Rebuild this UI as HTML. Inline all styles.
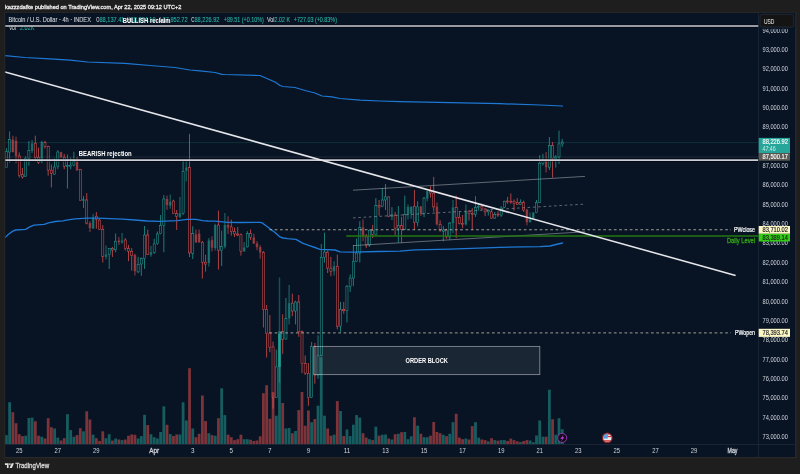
<!DOCTYPE html>
<html><head><meta charset="utf-8"><title>BTCUSD chart</title>
<style>
html,body{margin:0;padding:0;background:#1e1e1e;}
body{width:800px;height:474px;overflow:hidden;}
svg{display:block;will-change:transform;transform:translateZ(0);}
svg text{font-family:"Liberation Sans",sans-serif;}
</style></head><body>
<svg width="800" height="474" viewBox="0 0 800 474">
<rect x="0" y="0" width="800" height="474" fill="#1e1e1e"/>
<rect x="4.2" y="11.9" width="792.4" height="446.3" fill="#292929"/>
<rect x="5.2" y="12.9" width="789.9" height="444.1" fill="#081424"/>
<line x1="758.6" y1="12.8" x2="758.6" y2="457" stroke="#1c2738" stroke-width="0.9"/>
<line x1="5.3" y1="444.5" x2="795.1" y2="444.5" stroke="#1c2738" stroke-width="0.9"/>
<defs><clipPath id="pane"><rect x="5.3" y="12.8" width="753" height="431.5"/></clipPath></defs>
<g clip-path="url(#pane)">
<line x1="5" y1="142.6" x2="758" y2="142.6" stroke="#26a69a" stroke-opacity="0.28" stroke-width="0.7"/>
<line x1="5" y1="157" x2="758" y2="157" stroke="#9aa0aa" stroke-opacity="0.17" stroke-width="0.9"/>
<rect x="5.00" y="435.10" width="2.8" height="9.10" fill="#26a69a" fill-opacity="0.5"/>
<rect x="8.21" y="402.20" width="2.8" height="42.00" fill="#26a69a" fill-opacity="0.5"/>
<rect x="11.43" y="412.20" width="2.8" height="32.00" fill="#ef5350" fill-opacity="0.5"/>
<rect x="14.64" y="423.20" width="2.8" height="21.00" fill="#ef5350" fill-opacity="0.5"/>
<rect x="17.85" y="434.20" width="2.8" height="10.00" fill="#ef5350" fill-opacity="0.5"/>
<rect x="21.06" y="436.10" width="2.8" height="8.10" fill="#ef5350" fill-opacity="0.5"/>
<rect x="24.28" y="435.70" width="2.8" height="8.50" fill="#26a69a" fill-opacity="0.5"/>
<rect x="27.49" y="418.00" width="2.8" height="26.20" fill="#26a69a" fill-opacity="0.5"/>
<rect x="30.70" y="417.60" width="2.8" height="26.60" fill="#26a69a" fill-opacity="0.5"/>
<rect x="33.92" y="421.30" width="2.8" height="22.90" fill="#ef5350" fill-opacity="0.5"/>
<rect x="37.13" y="435.70" width="2.8" height="8.50" fill="#ef5350" fill-opacity="0.5"/>
<rect x="40.34" y="436.70" width="2.8" height="7.50" fill="#26a69a" fill-opacity="0.5"/>
<rect x="43.55" y="438.50" width="2.8" height="5.70" fill="#ef5350" fill-opacity="0.5"/>
<rect x="46.77" y="418.20" width="2.8" height="26.00" fill="#ef5350" fill-opacity="0.5"/>
<rect x="49.98" y="427.20" width="2.8" height="17.00" fill="#ef5350" fill-opacity="0.5"/>
<rect x="53.19" y="428.50" width="2.8" height="15.70" fill="#26a69a" fill-opacity="0.5"/>
<rect x="56.40" y="437.60" width="2.8" height="6.60" fill="#26a69a" fill-opacity="0.5"/>
<rect x="59.62" y="440.50" width="2.8" height="3.70" fill="#ef5350" fill-opacity="0.5"/>
<rect x="62.83" y="438.20" width="2.8" height="6.00" fill="#ef5350" fill-opacity="0.5"/>
<rect x="66.04" y="414.20" width="2.8" height="30.00" fill="#26a69a" fill-opacity="0.5"/>
<rect x="69.26" y="430.10" width="2.8" height="14.10" fill="#26a69a" fill-opacity="0.5"/>
<rect x="72.47" y="436.70" width="2.8" height="7.50" fill="#26a69a" fill-opacity="0.5"/>
<rect x="75.68" y="435.10" width="2.8" height="9.10" fill="#ef5350" fill-opacity="0.5"/>
<rect x="78.89" y="428.20" width="2.8" height="16.00" fill="#ef5350" fill-opacity="0.5"/>
<rect x="82.11" y="431.30" width="2.8" height="12.90" fill="#26a69a" fill-opacity="0.5"/>
<rect x="85.32" y="411.30" width="2.8" height="32.90" fill="#ef5350" fill-opacity="0.5"/>
<rect x="88.53" y="419.50" width="2.8" height="24.70" fill="#ef5350" fill-opacity="0.5"/>
<rect x="91.75" y="434.70" width="2.8" height="9.50" fill="#26a69a" fill-opacity="0.5"/>
<rect x="94.96" y="438.20" width="2.8" height="6.00" fill="#ef5350" fill-opacity="0.5"/>
<rect x="98.17" y="441.00" width="2.8" height="3.20" fill="#ef5350" fill-opacity="0.5"/>
<rect x="101.38" y="431.30" width="2.8" height="12.90" fill="#ef5350" fill-opacity="0.5"/>
<rect x="104.60" y="438.20" width="2.8" height="6.00" fill="#26a69a" fill-opacity="0.5"/>
<rect x="107.81" y="434.20" width="2.8" height="10.00" fill="#26a69a" fill-opacity="0.5"/>
<rect x="111.02" y="440.50" width="2.8" height="3.70" fill="#ef5350" fill-opacity="0.5"/>
<rect x="114.24" y="438.50" width="2.8" height="5.70" fill="#26a69a" fill-opacity="0.5"/>
<rect x="117.45" y="439.50" width="2.8" height="4.70" fill="#ef5350" fill-opacity="0.5"/>
<rect x="120.66" y="440.10" width="2.8" height="4.10" fill="#26a69a" fill-opacity="0.5"/>
<rect x="123.87" y="439.50" width="2.8" height="4.70" fill="#ef5350" fill-opacity="0.5"/>
<rect x="127.09" y="435.70" width="2.8" height="8.50" fill="#ef5350" fill-opacity="0.5"/>
<rect x="130.30" y="434.50" width="2.8" height="9.70" fill="#ef5350" fill-opacity="0.5"/>
<rect x="133.51" y="434.80" width="2.8" height="9.40" fill="#ef5350" fill-opacity="0.5"/>
<rect x="136.72" y="438.50" width="2.8" height="5.70" fill="#26a69a" fill-opacity="0.5"/>
<rect x="139.94" y="436.10" width="2.8" height="8.10" fill="#26a69a" fill-opacity="0.5"/>
<rect x="143.15" y="414.80" width="2.8" height="29.40" fill="#26a69a" fill-opacity="0.5"/>
<rect x="146.36" y="425.10" width="2.8" height="19.10" fill="#ef5350" fill-opacity="0.5"/>
<rect x="149.58" y="434.20" width="2.8" height="10.00" fill="#26a69a" fill-opacity="0.5"/>
<rect x="152.79" y="437.20" width="2.8" height="7.00" fill="#26a69a" fill-opacity="0.5"/>
<rect x="156.00" y="438.50" width="2.8" height="5.70" fill="#26a69a" fill-opacity="0.5"/>
<rect x="159.21" y="432.00" width="2.8" height="12.20" fill="#26a69a" fill-opacity="0.5"/>
<rect x="162.43" y="406.30" width="2.8" height="37.90" fill="#26a69a" fill-opacity="0.5"/>
<rect x="165.64" y="424.80" width="2.8" height="19.40" fill="#ef5350" fill-opacity="0.5"/>
<rect x="168.85" y="434.10" width="2.8" height="10.10" fill="#26a69a" fill-opacity="0.5"/>
<rect x="172.07" y="436.00" width="2.8" height="8.20" fill="#ef5350" fill-opacity="0.5"/>
<rect x="175.28" y="434.50" width="2.8" height="9.70" fill="#ef5350" fill-opacity="0.5"/>
<rect x="178.49" y="434.50" width="2.8" height="9.70" fill="#26a69a" fill-opacity="0.5"/>
<rect x="181.70" y="402.30" width="2.8" height="41.90" fill="#26a69a" fill-opacity="0.5"/>
<rect x="184.92" y="420.50" width="2.8" height="23.70" fill="#26a69a" fill-opacity="0.5"/>
<rect x="188.13" y="368.20" width="2.8" height="76.00" fill="#ef5350" fill-opacity="0.5"/>
<rect x="191.34" y="428.50" width="2.8" height="15.70" fill="#26a69a" fill-opacity="0.5"/>
<rect x="194.56" y="437.20" width="2.8" height="7.00" fill="#ef5350" fill-opacity="0.5"/>
<rect x="197.77" y="433.80" width="2.8" height="10.40" fill="#ef5350" fill-opacity="0.5"/>
<rect x="200.98" y="395.50" width="2.8" height="48.70" fill="#ef5350" fill-opacity="0.5"/>
<rect x="204.19" y="421.10" width="2.8" height="23.10" fill="#ef5350" fill-opacity="0.5"/>
<rect x="207.41" y="433.20" width="2.8" height="11.00" fill="#26a69a" fill-opacity="0.5"/>
<rect x="210.62" y="435.10" width="2.8" height="9.10" fill="#ef5350" fill-opacity="0.5"/>
<rect x="213.83" y="435.70" width="2.8" height="8.50" fill="#26a69a" fill-opacity="0.5"/>
<rect x="217.04" y="418.20" width="2.8" height="26.00" fill="#ef5350" fill-opacity="0.5"/>
<rect x="220.26" y="388.30" width="2.8" height="55.90" fill="#26a69a" fill-opacity="0.5"/>
<rect x="223.47" y="415.10" width="2.8" height="29.10" fill="#26a69a" fill-opacity="0.5"/>
<rect x="226.68" y="434.70" width="2.8" height="9.50" fill="#ef5350" fill-opacity="0.5"/>
<rect x="229.90" y="437.20" width="2.8" height="7.00" fill="#ef5350" fill-opacity="0.5"/>
<rect x="233.11" y="440.10" width="2.8" height="4.10" fill="#ef5350" fill-opacity="0.5"/>
<rect x="236.32" y="439.20" width="2.8" height="5.00" fill="#ef5350" fill-opacity="0.5"/>
<rect x="239.53" y="434.70" width="2.8" height="9.50" fill="#ef5350" fill-opacity="0.5"/>
<rect x="242.75" y="439.20" width="2.8" height="5.00" fill="#26a69a" fill-opacity="0.5"/>
<rect x="245.96" y="439.20" width="2.8" height="5.00" fill="#26a69a" fill-opacity="0.5"/>
<rect x="249.17" y="439.80" width="2.8" height="4.40" fill="#ef5350" fill-opacity="0.5"/>
<rect x="252.39" y="441.00" width="2.8" height="3.20" fill="#ef5350" fill-opacity="0.5"/>
<rect x="255.60" y="440.50" width="2.8" height="3.70" fill="#ef5350" fill-opacity="0.5"/>
<rect x="258.81" y="436.30" width="2.8" height="7.90" fill="#ef5350" fill-opacity="0.5"/>
<rect x="262.02" y="393.20" width="2.8" height="51.00" fill="#ef5350" fill-opacity="0.5"/>
<rect x="265.24" y="385.20" width="2.8" height="59.00" fill="#ef5350" fill-opacity="0.5"/>
<rect x="268.45" y="418.80" width="2.8" height="25.40" fill="#ef5350" fill-opacity="0.5"/>
<rect x="271.66" y="392.20" width="2.8" height="52.00" fill="#ef5350" fill-opacity="0.5"/>
<rect x="274.88" y="415.70" width="2.8" height="28.50" fill="#26a69a" fill-opacity="0.5"/>
<rect x="278.09" y="331.20" width="2.8" height="113.00" fill="#26a69a" fill-opacity="0.5"/>
<rect x="281.30" y="403.00" width="2.8" height="41.20" fill="#ef5350" fill-opacity="0.5"/>
<rect x="284.51" y="428.50" width="2.8" height="15.70" fill="#26a69a" fill-opacity="0.5"/>
<rect x="287.73" y="428.00" width="2.8" height="16.20" fill="#26a69a" fill-opacity="0.5"/>
<rect x="290.94" y="433.20" width="2.8" height="11.00" fill="#ef5350" fill-opacity="0.5"/>
<rect x="294.15" y="431.00" width="2.8" height="13.20" fill="#26a69a" fill-opacity="0.5"/>
<rect x="297.36" y="410.10" width="2.8" height="34.10" fill="#ef5350" fill-opacity="0.5"/>
<rect x="300.58" y="392.00" width="2.8" height="52.20" fill="#ef5350" fill-opacity="0.5"/>
<rect x="303.79" y="425.70" width="2.8" height="18.50" fill="#ef5350" fill-opacity="0.5"/>
<rect x="307.00" y="410.50" width="2.8" height="33.70" fill="#ef5350" fill-opacity="0.5"/>
<rect x="310.22" y="422.20" width="2.8" height="22.00" fill="#26a69a" fill-opacity="0.5"/>
<rect x="313.43" y="419.10" width="2.8" height="25.10" fill="#ef5350" fill-opacity="0.5"/>
<rect x="316.64" y="405.70" width="2.8" height="38.50" fill="#26a69a" fill-opacity="0.5"/>
<rect x="319.85" y="357.20" width="2.8" height="87.00" fill="#26a69a" fill-opacity="0.5"/>
<rect x="323.07" y="415.70" width="2.8" height="28.50" fill="#26a69a" fill-opacity="0.5"/>
<rect x="326.28" y="428.50" width="2.8" height="15.70" fill="#ef5350" fill-opacity="0.5"/>
<rect x="329.49" y="435.70" width="2.8" height="8.50" fill="#ef5350" fill-opacity="0.5"/>
<rect x="332.71" y="434.70" width="2.8" height="9.50" fill="#26a69a" fill-opacity="0.5"/>
<rect x="335.92" y="401.10" width="2.8" height="43.10" fill="#ef5350" fill-opacity="0.5"/>
<rect x="339.13" y="411.00" width="2.8" height="33.20" fill="#26a69a" fill-opacity="0.5"/>
<rect x="342.34" y="436.10" width="2.8" height="8.10" fill="#ef5350" fill-opacity="0.5"/>
<rect x="345.56" y="429.50" width="2.8" height="14.70" fill="#26a69a" fill-opacity="0.5"/>
<rect x="348.77" y="436.10" width="2.8" height="8.10" fill="#26a69a" fill-opacity="0.5"/>
<rect x="351.98" y="424.70" width="2.8" height="19.50" fill="#26a69a" fill-opacity="0.5"/>
<rect x="355.20" y="415.10" width="2.8" height="29.10" fill="#26a69a" fill-opacity="0.5"/>
<rect x="358.41" y="417.60" width="2.8" height="26.60" fill="#26a69a" fill-opacity="0.5"/>
<rect x="361.62" y="433.20" width="2.8" height="11.00" fill="#ef5350" fill-opacity="0.5"/>
<rect x="364.83" y="437.60" width="2.8" height="6.60" fill="#ef5350" fill-opacity="0.5"/>
<rect x="368.05" y="439.20" width="2.8" height="5.00" fill="#26a69a" fill-opacity="0.5"/>
<rect x="371.26" y="440.10" width="2.8" height="4.10" fill="#ef5350" fill-opacity="0.5"/>
<rect x="374.47" y="426.70" width="2.8" height="17.50" fill="#26a69a" fill-opacity="0.5"/>
<rect x="377.68" y="435.70" width="2.8" height="8.50" fill="#ef5350" fill-opacity="0.5"/>
<rect x="380.90" y="434.70" width="2.8" height="9.50" fill="#26a69a" fill-opacity="0.5"/>
<rect x="384.11" y="434.50" width="2.8" height="9.70" fill="#26a69a" fill-opacity="0.5"/>
<rect x="387.32" y="438.50" width="2.8" height="5.70" fill="#ef5350" fill-opacity="0.5"/>
<rect x="390.54" y="439.50" width="2.8" height="4.70" fill="#26a69a" fill-opacity="0.5"/>
<rect x="393.75" y="434.20" width="2.8" height="10.00" fill="#ef5350" fill-opacity="0.5"/>
<rect x="396.96" y="433.80" width="2.8" height="10.40" fill="#26a69a" fill-opacity="0.5"/>
<rect x="400.17" y="432.20" width="2.8" height="12.00" fill="#ef5350" fill-opacity="0.5"/>
<rect x="403.39" y="432.00" width="2.8" height="12.20" fill="#26a69a" fill-opacity="0.5"/>
<rect x="406.60" y="439.20" width="2.8" height="5.00" fill="#26a69a" fill-opacity="0.5"/>
<rect x="409.81" y="436.30" width="2.8" height="7.90" fill="#26a69a" fill-opacity="0.5"/>
<rect x="413.03" y="417.20" width="2.8" height="27.00" fill="#ef5350" fill-opacity="0.5"/>
<rect x="416.24" y="425.70" width="2.8" height="18.50" fill="#26a69a" fill-opacity="0.5"/>
<rect x="419.45" y="433.80" width="2.8" height="10.40" fill="#ef5350" fill-opacity="0.5"/>
<rect x="422.66" y="437.20" width="2.8" height="7.00" fill="#26a69a" fill-opacity="0.5"/>
<rect x="425.88" y="437.20" width="2.8" height="7.00" fill="#26a69a" fill-opacity="0.5"/>
<rect x="429.09" y="435.70" width="2.8" height="8.50" fill="#ef5350" fill-opacity="0.5"/>
<rect x="432.30" y="422.00" width="2.8" height="22.20" fill="#ef5350" fill-opacity="0.5"/>
<rect x="435.52" y="432.00" width="2.8" height="12.20" fill="#ef5350" fill-opacity="0.5"/>
<rect x="438.73" y="433.20" width="2.8" height="11.00" fill="#ef5350" fill-opacity="0.5"/>
<rect x="441.94" y="434.80" width="2.8" height="9.40" fill="#26a69a" fill-opacity="0.5"/>
<rect x="445.15" y="436.10" width="2.8" height="8.10" fill="#ef5350" fill-opacity="0.5"/>
<rect x="448.37" y="433.80" width="2.8" height="10.40" fill="#26a69a" fill-opacity="0.5"/>
<rect x="451.58" y="422.20" width="2.8" height="22.00" fill="#26a69a" fill-opacity="0.5"/>
<rect x="454.79" y="413.80" width="2.8" height="30.40" fill="#ef5350" fill-opacity="0.5"/>
<rect x="458.00" y="437.60" width="2.8" height="6.60" fill="#ef5350" fill-opacity="0.5"/>
<rect x="461.22" y="439.20" width="2.8" height="5.00" fill="#ef5350" fill-opacity="0.5"/>
<rect x="464.43" y="438.50" width="2.8" height="5.70" fill="#26a69a" fill-opacity="0.5"/>
<rect x="467.64" y="439.50" width="2.8" height="4.70" fill="#ef5350" fill-opacity="0.5"/>
<rect x="470.86" y="426.10" width="2.8" height="18.10" fill="#ef5350" fill-opacity="0.5"/>
<rect x="474.07" y="422.20" width="2.8" height="22.00" fill="#26a69a" fill-opacity="0.5"/>
<rect x="477.28" y="437.60" width="2.8" height="6.60" fill="#26a69a" fill-opacity="0.5"/>
<rect x="480.49" y="439.50" width="2.8" height="4.70" fill="#ef5350" fill-opacity="0.5"/>
<rect x="483.71" y="440.10" width="2.8" height="4.10" fill="#ef5350" fill-opacity="0.5"/>
<rect x="486.92" y="441.30" width="2.8" height="2.90" fill="#26a69a" fill-opacity="0.5"/>
<rect x="490.13" y="438.20" width="2.8" height="6.00" fill="#ef5350" fill-opacity="0.5"/>
<rect x="493.35" y="440.10" width="2.8" height="4.10" fill="#26a69a" fill-opacity="0.5"/>
<rect x="496.56" y="440.70" width="2.8" height="3.50" fill="#ef5350" fill-opacity="0.5"/>
<rect x="499.77" y="440.10" width="2.8" height="4.10" fill="#26a69a" fill-opacity="0.5"/>
<rect x="502.98" y="440.10" width="2.8" height="4.10" fill="#26a69a" fill-opacity="0.5"/>
<rect x="506.20" y="441.00" width="2.8" height="3.20" fill="#ef5350" fill-opacity="0.5"/>
<rect x="509.41" y="438.60" width="2.8" height="5.60" fill="#ef5350" fill-opacity="0.5"/>
<rect x="512.62" y="440.10" width="2.8" height="4.10" fill="#ef5350" fill-opacity="0.5"/>
<rect x="515.84" y="441.30" width="2.8" height="2.90" fill="#ef5350" fill-opacity="0.5"/>
<rect x="519.05" y="442.00" width="2.8" height="2.20" fill="#26a69a" fill-opacity="0.5"/>
<rect x="522.26" y="441.00" width="2.8" height="3.20" fill="#ef5350" fill-opacity="0.5"/>
<rect x="525.47" y="440.10" width="2.8" height="4.10" fill="#ef5350" fill-opacity="0.5"/>
<rect x="528.69" y="440.50" width="2.8" height="3.70" fill="#26a69a" fill-opacity="0.5"/>
<rect x="531.90" y="442.20" width="2.8" height="2.00" fill="#26a69a" fill-opacity="0.5"/>
<rect x="535.11" y="435.50" width="2.8" height="8.70" fill="#26a69a" fill-opacity="0.5"/>
<rect x="538.32" y="420.50" width="2.8" height="23.70" fill="#26a69a" fill-opacity="0.5"/>
<rect x="541.54" y="436.70" width="2.8" height="7.50" fill="#26a69a" fill-opacity="0.5"/>
<rect x="544.75" y="436.70" width="2.8" height="7.50" fill="#ef5350" fill-opacity="0.5"/>
<rect x="547.96" y="389.70" width="2.8" height="54.50" fill="#26a69a" fill-opacity="0.5"/>
<rect x="551.18" y="419.20" width="2.8" height="25.00" fill="#ef5350" fill-opacity="0.5"/>
<rect x="554.39" y="434.70" width="2.8" height="9.50" fill="#26a69a" fill-opacity="0.5"/>
<rect x="557.60" y="418.20" width="2.8" height="26.00" fill="#26a69a" fill-opacity="0.5"/>
<rect x="560.81" y="429.20" width="2.8" height="15.00" fill="#26a69a" fill-opacity="0.5"/>
<line x1="6.40" y1="148.20" x2="6.40" y2="151.60" stroke="#26a69a" stroke-width="0.72"/>
<line x1="6.40" y1="167.60" x2="6.40" y2="167.60" stroke="#26a69a" stroke-width="0.72"/>
<rect x="5.35" y="151.60" width="2.1" height="16.00" fill="#26a69a" fill-opacity="0.04" stroke="#26a69a" stroke-width="0.5"/>
<line x1="9.61" y1="131.40" x2="9.61" y2="139.50" stroke="#26a69a" stroke-width="0.72"/>
<line x1="9.61" y1="152.00" x2="9.61" y2="162.60" stroke="#26a69a" stroke-width="0.72"/>
<rect x="8.56" y="139.50" width="2.1" height="12.50" fill="#26a69a" fill-opacity="0.04" stroke="#26a69a" stroke-width="0.5"/>
<line x1="12.83" y1="135.70" x2="12.83" y2="152.50" stroke="#ef5350" stroke-width="1.5" stroke-opacity="0.42"/>
<rect x="11.53" y="139.50" width="2.6" height="12.50" fill="#ef5350" fill-opacity="0.42"/>
<line x1="16.04" y1="136.70" x2="16.04" y2="163.20" stroke="#ef5350" stroke-width="1.5" stroke-opacity="0.42"/>
<rect x="14.74" y="140.70" width="2.6" height="15.30" fill="#ef5350" fill-opacity="0.42"/>
<line x1="19.25" y1="152.40" x2="19.25" y2="156.00" stroke="#ef5350" stroke-width="0.72"/>
<line x1="19.25" y1="175.70" x2="19.25" y2="177.60" stroke="#ef5350" stroke-width="0.72"/>
<rect x="18.20" y="156.00" width="2.1" height="19.70" fill="#ef5350" fill-opacity="0.04" stroke="#ef5350" stroke-width="0.5"/>
<line x1="22.46" y1="168.00" x2="22.46" y2="174.50" stroke="#ef5350" stroke-width="0.72"/>
<line x1="22.46" y1="177.00" x2="22.46" y2="178.50" stroke="#ef5350" stroke-width="0.72"/>
<rect x="21.41" y="174.50" width="2.1" height="2.50" fill="#ef5350" fill-opacity="0.04" stroke="#ef5350" stroke-width="0.5"/>
<line x1="25.68" y1="156.40" x2="25.68" y2="158.20" stroke="#26a69a" stroke-width="0.72"/>
<line x1="25.68" y1="176.70" x2="25.68" y2="177.00" stroke="#26a69a" stroke-width="0.72"/>
<rect x="24.63" y="158.20" width="2.1" height="18.50" fill="#26a69a" fill-opacity="0.04" stroke="#26a69a" stroke-width="0.5"/>
<line x1="28.89" y1="141.00" x2="28.89" y2="150.50" stroke="#26a69a" stroke-width="0.72"/>
<line x1="28.89" y1="158.20" x2="28.89" y2="165.70" stroke="#26a69a" stroke-width="0.72"/>
<rect x="27.84" y="150.50" width="2.1" height="7.70" fill="#26a69a" fill-opacity="0.04" stroke="#26a69a" stroke-width="0.5"/>
<line x1="32.10" y1="140.00" x2="32.10" y2="153.20" stroke="#26a69a" stroke-width="1.5" stroke-opacity="0.42"/>
<rect x="30.80" y="143.50" width="2.6" height="7.50" fill="#26a69a" fill-opacity="0.42"/>
<line x1="35.32" y1="135.70" x2="35.32" y2="143.20" stroke="#ef5350" stroke-width="0.72"/>
<line x1="35.32" y1="157.60" x2="35.32" y2="161.40" stroke="#ef5350" stroke-width="0.72"/>
<rect x="34.27" y="143.20" width="2.1" height="14.40" fill="#ef5350" fill-opacity="0.04" stroke="#ef5350" stroke-width="0.5"/>
<line x1="38.53" y1="147.60" x2="38.53" y2="157.20" stroke="#ef5350" stroke-width="0.72"/>
<line x1="38.53" y1="162.60" x2="38.53" y2="163.90" stroke="#ef5350" stroke-width="0.72"/>
<rect x="37.48" y="157.20" width="2.1" height="5.40" fill="#ef5350" fill-opacity="0.04" stroke="#ef5350" stroke-width="0.5"/>
<line x1="41.74" y1="140.70" x2="41.74" y2="163.20" stroke="#26a69a" stroke-width="1.5" stroke-opacity="0.42"/>
<rect x="40.44" y="141.70" width="2.6" height="20.50" fill="#26a69a" fill-opacity="0.42"/>
<line x1="44.95" y1="140.70" x2="44.95" y2="142.60" stroke="#ef5350" stroke-width="0.72"/>
<line x1="44.95" y1="146.40" x2="44.95" y2="148.50" stroke="#ef5350" stroke-width="0.72"/>
<rect x="43.90" y="142.60" width="2.1" height="3.80" fill="#ef5350" fill-opacity="0.04" stroke="#ef5350" stroke-width="0.5"/>
<line x1="48.17" y1="145.70" x2="48.17" y2="146.60" stroke="#ef5350" stroke-width="0.72"/>
<line x1="48.17" y1="170.10" x2="48.17" y2="175.70" stroke="#ef5350" stroke-width="0.72"/>
<rect x="47.12" y="146.60" width="2.1" height="23.50" fill="#ef5350" fill-opacity="0.04" stroke="#ef5350" stroke-width="0.5"/>
<line x1="51.38" y1="164.50" x2="51.38" y2="170.10" stroke="#ef5350" stroke-width="0.72"/>
<line x1="51.38" y1="173.50" x2="51.38" y2="187.50" stroke="#ef5350" stroke-width="0.72"/>
<rect x="50.33" y="170.10" width="2.1" height="3.40" fill="#ef5350" fill-opacity="0.04" stroke="#ef5350" stroke-width="0.5"/>
<line x1="54.59" y1="158.20" x2="54.59" y2="167.00" stroke="#26a69a" stroke-width="0.72"/>
<line x1="54.59" y1="174.20" x2="54.59" y2="174.50" stroke="#26a69a" stroke-width="0.72"/>
<rect x="53.54" y="167.00" width="2.1" height="7.20" fill="#26a69a" fill-opacity="0.04" stroke="#26a69a" stroke-width="0.5"/>
<line x1="57.80" y1="150.10" x2="57.80" y2="152.00" stroke="#26a69a" stroke-width="0.72"/>
<line x1="57.80" y1="166.70" x2="57.80" y2="168.90" stroke="#26a69a" stroke-width="0.72"/>
<rect x="56.75" y="152.00" width="2.1" height="14.70" fill="#26a69a" fill-opacity="0.04" stroke="#26a69a" stroke-width="0.5"/>
<line x1="61.02" y1="151.70" x2="61.02" y2="158.20" stroke="#ef5350" stroke-width="1.5" stroke-opacity="0.42"/>
<rect x="59.72" y="152.20" width="2.6" height="4.80" fill="#ef5350" fill-opacity="0.42"/>
<line x1="64.23" y1="153.90" x2="64.23" y2="157.20" stroke="#ef5350" stroke-width="0.72"/>
<line x1="64.23" y1="166.40" x2="64.23" y2="169.20" stroke="#ef5350" stroke-width="0.72"/>
<rect x="63.18" y="157.20" width="2.1" height="9.20" fill="#ef5350" fill-opacity="0.04" stroke="#ef5350" stroke-width="0.5"/>
<line x1="67.44" y1="154.50" x2="67.44" y2="165.40" stroke="#26a69a" stroke-width="0.72"/>
<line x1="67.44" y1="166.40" x2="67.44" y2="188.50" stroke="#26a69a" stroke-width="0.72"/>
<rect x="66.39" y="165.40" width="2.1" height="1.00" fill="#26a69a" fill-opacity="0.04" stroke="#26a69a" stroke-width="0.5"/>
<line x1="70.66" y1="157.60" x2="70.66" y2="165.10" stroke="#26a69a" stroke-width="0.72"/>
<line x1="70.66" y1="166.70" x2="70.66" y2="169.20" stroke="#26a69a" stroke-width="0.72"/>
<rect x="69.61" y="165.10" width="2.1" height="1.60" fill="#26a69a" fill-opacity="0.04" stroke="#26a69a" stroke-width="0.5"/>
<line x1="73.87" y1="151.70" x2="73.87" y2="161.70" stroke="#26a69a" stroke-width="0.72"/>
<line x1="73.87" y1="165.10" x2="73.87" y2="166.40" stroke="#26a69a" stroke-width="0.72"/>
<rect x="72.82" y="161.70" width="2.1" height="3.40" fill="#26a69a" fill-opacity="0.04" stroke="#26a69a" stroke-width="0.5"/>
<line x1="77.08" y1="157.00" x2="77.08" y2="170.80" stroke="#ef5350" stroke-width="1.5" stroke-opacity="0.42"/>
<rect x="75.78" y="161.70" width="2.6" height="8.80" fill="#ef5350" fill-opacity="0.42"/>
<line x1="80.29" y1="168.90" x2="80.29" y2="169.50" stroke="#ef5350" stroke-width="0.72"/>
<line x1="80.29" y1="200.60" x2="80.29" y2="200.80" stroke="#ef5350" stroke-width="0.72"/>
<rect x="79.24" y="169.50" width="2.1" height="31.10" fill="#ef5350" fill-opacity="0.04" stroke="#ef5350" stroke-width="0.5"/>
<line x1="83.51" y1="196.20" x2="83.51" y2="199.75" stroke="#26a69a" stroke-width="0.72"/>
<line x1="83.51" y1="200.65" x2="83.51" y2="208.10" stroke="#26a69a" stroke-width="0.72"/>
<rect x="82.46" y="199.75" width="2.1" height="0.90" fill="#26a69a" fill-opacity="0.04" stroke="#26a69a" stroke-width="0.5"/>
<line x1="86.72" y1="193.10" x2="86.72" y2="200.00" stroke="#ef5350" stroke-width="0.72"/>
<line x1="86.72" y1="223.10" x2="86.72" y2="224.40" stroke="#ef5350" stroke-width="0.72"/>
<rect x="85.67" y="200.00" width="2.1" height="23.10" fill="#ef5350" fill-opacity="0.04" stroke="#ef5350" stroke-width="0.5"/>
<line x1="89.93" y1="221.20" x2="89.93" y2="231.90" stroke="#ef5350" stroke-width="1.5" stroke-opacity="0.42"/>
<rect x="88.63" y="223.10" width="2.6" height="5.00" fill="#ef5350" fill-opacity="0.42"/>
<line x1="93.15" y1="213.70" x2="93.15" y2="228.90" stroke="#26a69a" stroke-width="1.5" stroke-opacity="0.42"/>
<rect x="91.85" y="217.50" width="2.6" height="10.90" fill="#26a69a" fill-opacity="0.42"/>
<line x1="96.36" y1="212.10" x2="96.36" y2="216.20" stroke="#ef5350" stroke-width="0.72"/>
<line x1="96.36" y1="219.40" x2="96.36" y2="228.70" stroke="#ef5350" stroke-width="0.72"/>
<rect x="95.31" y="216.20" width="2.1" height="3.20" fill="#ef5350" fill-opacity="0.04" stroke="#ef5350" stroke-width="0.5"/>
<line x1="99.57" y1="218.70" x2="99.57" y2="220.00" stroke="#ef5350" stroke-width="0.72"/>
<line x1="99.57" y1="229.40" x2="99.57" y2="229.80" stroke="#ef5350" stroke-width="0.72"/>
<rect x="98.52" y="220.00" width="2.1" height="9.40" fill="#ef5350" fill-opacity="0.04" stroke="#ef5350" stroke-width="0.5"/>
<line x1="102.78" y1="225.20" x2="102.78" y2="229.40" stroke="#ef5350" stroke-width="0.72"/>
<line x1="102.78" y1="256.20" x2="102.78" y2="262.50" stroke="#ef5350" stroke-width="0.72"/>
<rect x="101.73" y="229.40" width="2.1" height="26.80" fill="#ef5350" fill-opacity="0.04" stroke="#ef5350" stroke-width="0.5"/>
<line x1="106.00" y1="245.60" x2="106.00" y2="259.40" stroke="#26a69a" stroke-width="1.5" stroke-opacity="0.42"/>
<rect x="104.70" y="254.40" width="2.6" height="2.50" fill="#26a69a" fill-opacity="0.42"/>
<line x1="109.21" y1="248.10" x2="109.21" y2="248.50" stroke="#26a69a" stroke-width="0.72"/>
<line x1="109.21" y1="254.40" x2="109.21" y2="269.00" stroke="#26a69a" stroke-width="0.72"/>
<rect x="108.16" y="248.50" width="2.1" height="5.90" fill="#26a69a" fill-opacity="0.04" stroke="#26a69a" stroke-width="0.5"/>
<line x1="112.42" y1="246.90" x2="112.42" y2="248.50" stroke="#ef5350" stroke-width="0.72"/>
<line x1="112.42" y1="250.00" x2="112.42" y2="256.90" stroke="#ef5350" stroke-width="0.72"/>
<rect x="111.37" y="248.50" width="2.1" height="1.50" fill="#ef5350" fill-opacity="0.04" stroke="#ef5350" stroke-width="0.5"/>
<line x1="115.64" y1="233.50" x2="115.64" y2="241.20" stroke="#26a69a" stroke-width="0.72"/>
<line x1="115.64" y1="249.80" x2="115.64" y2="252.30" stroke="#26a69a" stroke-width="0.72"/>
<rect x="114.59" y="241.20" width="2.1" height="8.60" fill="#26a69a" fill-opacity="0.04" stroke="#26a69a" stroke-width="0.5"/>
<line x1="118.85" y1="236.90" x2="118.85" y2="245.00" stroke="#ef5350" stroke-width="1.5" stroke-opacity="0.42"/>
<rect x="117.55" y="240.60" width="2.6" height="1.60" fill="#ef5350" fill-opacity="0.42"/>
<line x1="122.06" y1="233.10" x2="122.06" y2="243.70" stroke="#26a69a" stroke-width="1.5" stroke-opacity="0.42"/>
<rect x="120.76" y="240.60" width="2.6" height="1.90" fill="#26a69a" fill-opacity="0.42"/>
<line x1="125.27" y1="238.10" x2="125.27" y2="240.00" stroke="#ef5350" stroke-width="0.72"/>
<line x1="125.27" y1="248.60" x2="125.27" y2="250.60" stroke="#ef5350" stroke-width="0.72"/>
<rect x="124.22" y="240.00" width="2.1" height="8.60" fill="#ef5350" fill-opacity="0.04" stroke="#ef5350" stroke-width="0.5"/>
<line x1="128.49" y1="245.00" x2="128.49" y2="248.60" stroke="#ef5350" stroke-width="0.72"/>
<line x1="128.49" y1="251.20" x2="128.49" y2="261.20" stroke="#ef5350" stroke-width="0.72"/>
<rect x="127.44" y="248.60" width="2.1" height="2.60" fill="#ef5350" fill-opacity="0.04" stroke="#ef5350" stroke-width="0.5"/>
<line x1="131.70" y1="248.10" x2="131.70" y2="251.20" stroke="#ef5350" stroke-width="0.72"/>
<line x1="131.70" y1="255.60" x2="131.70" y2="270.60" stroke="#ef5350" stroke-width="0.72"/>
<rect x="130.65" y="251.20" width="2.1" height="4.40" fill="#ef5350" fill-opacity="0.04" stroke="#ef5350" stroke-width="0.5"/>
<line x1="134.91" y1="253.70" x2="134.91" y2="275.60" stroke="#ef5350" stroke-width="1.5" stroke-opacity="0.42"/>
<rect x="133.61" y="255.00" width="2.6" height="16.20" fill="#ef5350" fill-opacity="0.42"/>
<line x1="138.12" y1="256.90" x2="138.12" y2="264.40" stroke="#26a69a" stroke-width="0.72"/>
<line x1="138.12" y1="271.90" x2="138.12" y2="273.10" stroke="#26a69a" stroke-width="0.72"/>
<rect x="137.07" y="264.40" width="2.1" height="7.50" fill="#26a69a" fill-opacity="0.04" stroke="#26a69a" stroke-width="0.5"/>
<line x1="141.34" y1="257.50" x2="141.34" y2="258.60" stroke="#26a69a" stroke-width="0.72"/>
<line x1="141.34" y1="264.00" x2="141.34" y2="275.80" stroke="#26a69a" stroke-width="0.72"/>
<rect x="140.29" y="258.60" width="2.1" height="5.40" fill="#26a69a" fill-opacity="0.04" stroke="#26a69a" stroke-width="0.5"/>
<line x1="144.55" y1="226.00" x2="144.55" y2="235.00" stroke="#26a69a" stroke-width="0.72"/>
<line x1="144.55" y1="258.60" x2="144.55" y2="268.90" stroke="#26a69a" stroke-width="0.72"/>
<rect x="143.50" y="235.00" width="2.1" height="23.60" fill="#26a69a" fill-opacity="0.04" stroke="#26a69a" stroke-width="0.5"/>
<line x1="147.76" y1="229.70" x2="147.76" y2="235.00" stroke="#ef5350" stroke-width="0.72"/>
<line x1="147.76" y1="254.70" x2="147.76" y2="255.00" stroke="#ef5350" stroke-width="0.72"/>
<rect x="146.71" y="235.00" width="2.1" height="19.70" fill="#ef5350" fill-opacity="0.04" stroke="#ef5350" stroke-width="0.5"/>
<line x1="150.98" y1="246.10" x2="150.98" y2="256.70" stroke="#26a69a" stroke-width="1.5" stroke-opacity="0.42"/>
<rect x="149.68" y="252.30" width="2.6" height="2.40" fill="#26a69a" fill-opacity="0.42"/>
<line x1="154.19" y1="238.80" x2="154.19" y2="243.90" stroke="#26a69a" stroke-width="0.72"/>
<line x1="154.19" y1="252.30" x2="154.19" y2="253.90" stroke="#26a69a" stroke-width="0.72"/>
<rect x="153.14" y="243.90" width="2.1" height="8.40" fill="#26a69a" fill-opacity="0.04" stroke="#26a69a" stroke-width="0.5"/>
<line x1="157.40" y1="231.50" x2="157.40" y2="234.00" stroke="#26a69a" stroke-width="0.72"/>
<line x1="157.40" y1="243.70" x2="157.40" y2="244.80" stroke="#26a69a" stroke-width="0.72"/>
<rect x="156.35" y="234.00" width="2.1" height="9.70" fill="#26a69a" fill-opacity="0.04" stroke="#26a69a" stroke-width="0.5"/>
<line x1="160.61" y1="215.00" x2="160.61" y2="225.60" stroke="#26a69a" stroke-width="0.72"/>
<line x1="160.61" y1="233.70" x2="160.61" y2="234.30" stroke="#26a69a" stroke-width="0.72"/>
<rect x="159.56" y="225.60" width="2.1" height="8.10" fill="#26a69a" fill-opacity="0.04" stroke="#26a69a" stroke-width="0.5"/>
<line x1="163.83" y1="195.00" x2="163.83" y2="199.00" stroke="#26a69a" stroke-width="0.72"/>
<line x1="163.83" y1="225.60" x2="163.83" y2="252.20" stroke="#26a69a" stroke-width="0.72"/>
<rect x="162.78" y="199.00" width="2.1" height="26.60" fill="#26a69a" fill-opacity="0.04" stroke="#26a69a" stroke-width="0.5"/>
<line x1="167.04" y1="195.60" x2="167.04" y2="209.70" stroke="#ef5350" stroke-width="1.5" stroke-opacity="0.42"/>
<rect x="165.74" y="199.00" width="2.6" height="6.00" fill="#ef5350" fill-opacity="0.42"/>
<line x1="170.25" y1="194.40" x2="170.25" y2="208.70" stroke="#26a69a" stroke-width="1.5" stroke-opacity="0.42"/>
<rect x="168.95" y="201.90" width="2.6" height="3.70" fill="#26a69a" fill-opacity="0.42"/>
<line x1="173.47" y1="199.70" x2="173.47" y2="201.00" stroke="#ef5350" stroke-width="0.72"/>
<line x1="173.47" y1="213.70" x2="173.47" y2="214.00" stroke="#ef5350" stroke-width="0.72"/>
<rect x="172.42" y="201.00" width="2.1" height="12.70" fill="#ef5350" fill-opacity="0.04" stroke="#ef5350" stroke-width="0.5"/>
<line x1="176.68" y1="210.00" x2="176.68" y2="213.70" stroke="#ef5350" stroke-width="0.72"/>
<line x1="176.68" y1="216.20" x2="176.68" y2="230.00" stroke="#ef5350" stroke-width="0.72"/>
<rect x="175.63" y="213.70" width="2.1" height="2.50" fill="#ef5350" fill-opacity="0.04" stroke="#ef5350" stroke-width="0.5"/>
<line x1="179.89" y1="196.90" x2="179.89" y2="218.10" stroke="#26a69a" stroke-width="1.5" stroke-opacity="0.42"/>
<rect x="178.59" y="213.10" width="2.6" height="3.80" fill="#26a69a" fill-opacity="0.42"/>
<line x1="183.10" y1="160.10" x2="183.10" y2="171.40" stroke="#26a69a" stroke-width="0.72"/>
<line x1="183.10" y1="213.10" x2="183.10" y2="215.00" stroke="#26a69a" stroke-width="0.72"/>
<rect x="182.05" y="171.40" width="2.1" height="41.70" fill="#26a69a" fill-opacity="0.04" stroke="#26a69a" stroke-width="0.5"/>
<line x1="186.32" y1="160.00" x2="186.32" y2="181.40" stroke="#26a69a" stroke-width="1.5" stroke-opacity="0.42"/>
<rect x="185.02" y="167.60" width="2.6" height="3.10" fill="#26a69a" fill-opacity="0.42"/>
<line x1="189.53" y1="133.90" x2="189.53" y2="167.60" stroke="#ef5350" stroke-width="0.72"/>
<line x1="189.53" y1="252.90" x2="189.53" y2="257.00" stroke="#ef5350" stroke-width="0.72"/>
<rect x="188.48" y="167.60" width="2.1" height="85.30" fill="#ef5350" fill-opacity="0.04" stroke="#ef5350" stroke-width="0.5"/>
<line x1="192.74" y1="226.20" x2="192.74" y2="233.70" stroke="#26a69a" stroke-width="0.72"/>
<line x1="192.74" y1="253.20" x2="192.74" y2="259.10" stroke="#26a69a" stroke-width="0.72"/>
<rect x="191.69" y="233.70" width="2.1" height="19.50" fill="#26a69a" fill-opacity="0.04" stroke="#26a69a" stroke-width="0.5"/>
<line x1="195.96" y1="229.40" x2="195.96" y2="243.00" stroke="#ef5350" stroke-width="1.5" stroke-opacity="0.42"/>
<rect x="194.66" y="234.40" width="2.6" height="7.90" fill="#ef5350" fill-opacity="0.42"/>
<line x1="199.17" y1="229.40" x2="199.17" y2="242.80" stroke="#ef5350" stroke-width="1.5" stroke-opacity="0.42"/>
<rect x="197.87" y="233.70" width="2.6" height="8.60" fill="#ef5350" fill-opacity="0.42"/>
<line x1="202.38" y1="241.00" x2="202.38" y2="242.20" stroke="#ef5350" stroke-width="0.72"/>
<line x1="202.38" y1="262.20" x2="202.38" y2="278.50" stroke="#ef5350" stroke-width="0.72"/>
<rect x="201.33" y="242.20" width="2.1" height="20.00" fill="#ef5350" fill-opacity="0.04" stroke="#ef5350" stroke-width="0.5"/>
<line x1="205.59" y1="254.70" x2="205.59" y2="262.20" stroke="#ef5350" stroke-width="0.72"/>
<line x1="205.59" y1="264.10" x2="205.59" y2="271.60" stroke="#ef5350" stroke-width="0.72"/>
<rect x="204.54" y="262.20" width="2.1" height="1.90" fill="#ef5350" fill-opacity="0.04" stroke="#ef5350" stroke-width="0.5"/>
<line x1="208.81" y1="238.00" x2="208.81" y2="266.60" stroke="#26a69a" stroke-width="1.5" stroke-opacity="0.42"/>
<rect x="207.51" y="240.50" width="2.6" height="22.40" fill="#26a69a" fill-opacity="0.42"/>
<line x1="212.02" y1="236.20" x2="212.02" y2="251.60" stroke="#ef5350" stroke-width="1.5" stroke-opacity="0.42"/>
<rect x="210.72" y="240.20" width="2.6" height="7.50" fill="#ef5350" fill-opacity="0.42"/>
<line x1="215.23" y1="223.70" x2="215.23" y2="250.40" stroke="#26a69a" stroke-width="1.5" stroke-opacity="0.42"/>
<rect x="213.93" y="225.00" width="2.6" height="23.00" fill="#26a69a" fill-opacity="0.42"/>
<line x1="218.44" y1="210.60" x2="218.44" y2="225.00" stroke="#ef5350" stroke-width="0.72"/>
<line x1="218.44" y1="250.40" x2="218.44" y2="269.50" stroke="#ef5350" stroke-width="0.72"/>
<rect x="217.39" y="225.00" width="2.1" height="25.40" fill="#ef5350" fill-opacity="0.04" stroke="#ef5350" stroke-width="0.5"/>
<line x1="221.66" y1="230.60" x2="221.66" y2="246.60" stroke="#26a69a" stroke-width="0.72"/>
<line x1="221.66" y1="250.40" x2="221.66" y2="266.00" stroke="#26a69a" stroke-width="0.72"/>
<rect x="220.61" y="246.60" width="2.1" height="3.80" fill="#26a69a" fill-opacity="0.04" stroke="#26a69a" stroke-width="0.5"/>
<line x1="224.87" y1="213.10" x2="224.87" y2="248.50" stroke="#26a69a" stroke-width="1.5" stroke-opacity="0.42"/>
<rect x="223.57" y="225.00" width="2.6" height="21.70" fill="#26a69a" fill-opacity="0.42"/>
<line x1="228.08" y1="216.20" x2="228.08" y2="234.00" stroke="#ef5350" stroke-width="1.5" stroke-opacity="0.42"/>
<rect x="226.78" y="225.00" width="2.6" height="2.50" fill="#ef5350" fill-opacity="0.42"/>
<line x1="231.30" y1="219.70" x2="231.30" y2="226.90" stroke="#ef5350" stroke-width="0.72"/>
<line x1="231.30" y1="231.50" x2="231.30" y2="235.60" stroke="#ef5350" stroke-width="0.72"/>
<rect x="230.25" y="226.90" width="2.1" height="4.60" fill="#ef5350" fill-opacity="0.04" stroke="#ef5350" stroke-width="0.5"/>
<line x1="234.51" y1="227.50" x2="234.51" y2="231.30" stroke="#ef5350" stroke-width="0.72"/>
<line x1="234.51" y1="234.00" x2="234.51" y2="236.90" stroke="#ef5350" stroke-width="0.72"/>
<rect x="233.46" y="231.30" width="2.1" height="2.70" fill="#ef5350" fill-opacity="0.04" stroke="#ef5350" stroke-width="0.5"/>
<line x1="237.72" y1="227.00" x2="237.72" y2="234.00" stroke="#ef5350" stroke-width="0.72"/>
<line x1="237.72" y1="235.00" x2="237.72" y2="236.20" stroke="#ef5350" stroke-width="0.72"/>
<rect x="236.67" y="234.00" width="2.1" height="1.00" fill="#ef5350" fill-opacity="0.04" stroke="#ef5350" stroke-width="0.5"/>
<line x1="240.93" y1="233.50" x2="240.93" y2="234.80" stroke="#ef5350" stroke-width="0.72"/>
<line x1="240.93" y1="251.20" x2="240.93" y2="255.60" stroke="#ef5350" stroke-width="0.72"/>
<rect x="239.88" y="234.80" width="2.1" height="16.40" fill="#ef5350" fill-opacity="0.04" stroke="#ef5350" stroke-width="0.5"/>
<line x1="244.15" y1="241.90" x2="244.15" y2="251.90" stroke="#26a69a" stroke-width="1.5" stroke-opacity="0.42"/>
<rect x="242.85" y="247.50" width="2.6" height="3.70" fill="#26a69a" fill-opacity="0.42"/>
<line x1="247.36" y1="231.20" x2="247.36" y2="233.50" stroke="#26a69a" stroke-width="0.72"/>
<line x1="247.36" y1="246.90" x2="247.36" y2="247.50" stroke="#26a69a" stroke-width="0.72"/>
<rect x="246.31" y="233.50" width="2.1" height="13.40" fill="#26a69a" fill-opacity="0.04" stroke="#26a69a" stroke-width="0.5"/>
<line x1="250.57" y1="229.40" x2="250.57" y2="233.50" stroke="#ef5350" stroke-width="0.72"/>
<line x1="250.57" y1="237.20" x2="250.57" y2="240.00" stroke="#ef5350" stroke-width="0.72"/>
<rect x="249.52" y="233.50" width="2.1" height="3.70" fill="#ef5350" fill-opacity="0.04" stroke="#ef5350" stroke-width="0.5"/>
<line x1="253.79" y1="233.70" x2="253.79" y2="244.00" stroke="#ef5350" stroke-width="1.5" stroke-opacity="0.42"/>
<rect x="252.49" y="237.50" width="2.6" height="6.00" fill="#ef5350" fill-opacity="0.42"/>
<line x1="257.00" y1="241.20" x2="257.00" y2="250.20" stroke="#ef5350" stroke-width="1.5" stroke-opacity="0.42"/>
<rect x="255.70" y="243.50" width="2.6" height="3.70" fill="#ef5350" fill-opacity="0.42"/>
<line x1="260.21" y1="245.20" x2="260.21" y2="258.70" stroke="#ef5350" stroke-width="1.5" stroke-opacity="0.42"/>
<rect x="258.91" y="247.20" width="2.6" height="5.30" fill="#ef5350" fill-opacity="0.42"/>
<line x1="263.42" y1="251.00" x2="263.42" y2="252.20" stroke="#ef5350" stroke-width="0.72"/>
<line x1="263.42" y1="309.40" x2="263.42" y2="327.50" stroke="#ef5350" stroke-width="0.72"/>
<rect x="262.37" y="252.20" width="2.1" height="57.20" fill="#ef5350" fill-opacity="0.04" stroke="#ef5350" stroke-width="0.5"/>
<line x1="266.64" y1="305.00" x2="266.64" y2="309.40" stroke="#ef5350" stroke-width="0.72"/>
<line x1="266.64" y1="333.10" x2="266.64" y2="357.50" stroke="#ef5350" stroke-width="0.72"/>
<rect x="265.59" y="309.40" width="2.1" height="23.70" fill="#ef5350" fill-opacity="0.04" stroke="#ef5350" stroke-width="0.5"/>
<line x1="269.85" y1="315.00" x2="269.85" y2="333.10" stroke="#ef5350" stroke-width="0.72"/>
<line x1="269.85" y1="347.20" x2="269.85" y2="352.20" stroke="#ef5350" stroke-width="0.72"/>
<rect x="268.80" y="333.10" width="2.1" height="14.10" fill="#ef5350" fill-opacity="0.04" stroke="#ef5350" stroke-width="0.5"/>
<line x1="273.06" y1="341.60" x2="273.06" y2="346.90" stroke="#ef5350" stroke-width="0.72"/>
<line x1="273.06" y1="397.50" x2="273.06" y2="408.60" stroke="#ef5350" stroke-width="0.72"/>
<rect x="272.01" y="346.90" width="2.1" height="50.60" fill="#ef5350" fill-opacity="0.04" stroke="#ef5350" stroke-width="0.5"/>
<line x1="276.28" y1="349.70" x2="276.28" y2="366.90" stroke="#26a69a" stroke-width="0.72"/>
<line x1="276.28" y1="397.50" x2="276.28" y2="398.00" stroke="#26a69a" stroke-width="0.72"/>
<rect x="275.23" y="366.90" width="2.1" height="30.60" fill="#26a69a" fill-opacity="0.04" stroke="#26a69a" stroke-width="0.5"/>
<line x1="279.49" y1="277.40" x2="279.49" y2="382.50" stroke="#26a69a" stroke-width="1.5" stroke-opacity="0.42"/>
<rect x="278.19" y="333.80" width="2.6" height="33.10" fill="#26a69a" fill-opacity="0.8"/>
<line x1="282.70" y1="314.40" x2="282.70" y2="331.70" stroke="#ef5350" stroke-width="0.72"/>
<line x1="282.70" y1="339.20" x2="282.70" y2="353.80" stroke="#ef5350" stroke-width="0.72"/>
<rect x="281.65" y="331.70" width="2.1" height="7.50" fill="#ef5350" fill-opacity="0.04" stroke="#ef5350" stroke-width="0.5"/>
<line x1="285.91" y1="298.00" x2="285.91" y2="318.70" stroke="#26a69a" stroke-width="0.72"/>
<line x1="285.91" y1="339.00" x2="285.91" y2="339.50" stroke="#26a69a" stroke-width="0.72"/>
<rect x="284.86" y="318.70" width="2.1" height="20.30" fill="#26a69a" fill-opacity="0.04" stroke="#26a69a" stroke-width="0.5"/>
<line x1="289.13" y1="284.90" x2="289.13" y2="324.40" stroke="#26a69a" stroke-width="1.5" stroke-opacity="0.42"/>
<rect x="287.83" y="303.10" width="2.6" height="15.30" fill="#26a69a" fill-opacity="0.42"/>
<line x1="292.34" y1="293.60" x2="292.34" y2="303.10" stroke="#ef5350" stroke-width="0.72"/>
<line x1="292.34" y1="311.00" x2="292.34" y2="316.20" stroke="#ef5350" stroke-width="0.72"/>
<rect x="291.29" y="303.10" width="2.1" height="7.90" fill="#ef5350" fill-opacity="0.04" stroke="#ef5350" stroke-width="0.5"/>
<line x1="295.55" y1="300.80" x2="295.55" y2="302.00" stroke="#26a69a" stroke-width="0.72"/>
<line x1="295.55" y1="311.00" x2="295.55" y2="324.40" stroke="#26a69a" stroke-width="0.72"/>
<rect x="294.50" y="302.00" width="2.1" height="9.00" fill="#26a69a" fill-opacity="0.04" stroke="#26a69a" stroke-width="0.5"/>
<line x1="298.76" y1="295.00" x2="298.76" y2="302.00" stroke="#ef5350" stroke-width="0.72"/>
<line x1="298.76" y1="331.70" x2="298.76" y2="336.80" stroke="#ef5350" stroke-width="0.72"/>
<rect x="297.71" y="302.00" width="2.1" height="29.70" fill="#ef5350" fill-opacity="0.04" stroke="#ef5350" stroke-width="0.5"/>
<line x1="301.98" y1="330.50" x2="301.98" y2="331.70" stroke="#ef5350" stroke-width="0.72"/>
<line x1="301.98" y1="363.60" x2="301.98" y2="373.10" stroke="#ef5350" stroke-width="0.72"/>
<rect x="300.93" y="331.70" width="2.1" height="31.90" fill="#ef5350" fill-opacity="0.04" stroke="#ef5350" stroke-width="0.5"/>
<line x1="305.19" y1="355.40" x2="305.19" y2="363.60" stroke="#ef5350" stroke-width="0.72"/>
<line x1="305.19" y1="373.10" x2="305.19" y2="375.00" stroke="#ef5350" stroke-width="0.72"/>
<rect x="304.14" y="363.60" width="2.1" height="9.50" fill="#ef5350" fill-opacity="0.04" stroke="#ef5350" stroke-width="0.5"/>
<line x1="308.40" y1="363.00" x2="308.40" y2="373.30" stroke="#ef5350" stroke-width="0.72"/>
<line x1="308.40" y1="397.70" x2="308.40" y2="405.80" stroke="#ef5350" stroke-width="0.72"/>
<rect x="307.35" y="373.30" width="2.1" height="24.40" fill="#ef5350" fill-opacity="0.04" stroke="#ef5350" stroke-width="0.5"/>
<line x1="311.62" y1="342.00" x2="311.62" y2="346.60" stroke="#26a69a" stroke-width="0.72"/>
<line x1="311.62" y1="397.50" x2="311.62" y2="398.10" stroke="#26a69a" stroke-width="0.72"/>
<rect x="310.57" y="346.60" width="2.1" height="50.90" fill="#26a69a" fill-opacity="0.04" stroke="#26a69a" stroke-width="0.5"/>
<line x1="314.83" y1="343.00" x2="314.83" y2="346.60" stroke="#ef5350" stroke-width="0.72"/>
<line x1="314.83" y1="375.00" x2="314.83" y2="383.70" stroke="#ef5350" stroke-width="0.72"/>
<rect x="313.78" y="346.60" width="2.1" height="28.40" fill="#ef5350" fill-opacity="0.04" stroke="#ef5350" stroke-width="0.5"/>
<line x1="318.04" y1="335.30" x2="318.04" y2="355.80" stroke="#26a69a" stroke-width="0.72"/>
<line x1="318.04" y1="375.00" x2="318.04" y2="378.70" stroke="#26a69a" stroke-width="0.72"/>
<rect x="316.99" y="355.80" width="2.1" height="19.20" fill="#26a69a" fill-opacity="0.04" stroke="#26a69a" stroke-width="0.5"/>
<line x1="321.25" y1="244.00" x2="321.25" y2="257.20" stroke="#26a69a" stroke-width="0.72"/>
<line x1="321.25" y1="355.80" x2="321.25" y2="356.50" stroke="#26a69a" stroke-width="0.72"/>
<rect x="320.20" y="257.20" width="2.1" height="98.60" fill="#26a69a" fill-opacity="0.04" stroke="#26a69a" stroke-width="0.5"/>
<line x1="324.47" y1="232.70" x2="324.47" y2="252.00" stroke="#26a69a" stroke-width="0.72"/>
<line x1="324.47" y1="257.20" x2="324.47" y2="262.50" stroke="#26a69a" stroke-width="0.72"/>
<rect x="323.42" y="252.00" width="2.1" height="5.20" fill="#26a69a" fill-opacity="0.04" stroke="#26a69a" stroke-width="0.5"/>
<line x1="327.68" y1="250.60" x2="327.68" y2="252.20" stroke="#ef5350" stroke-width="0.72"/>
<line x1="327.68" y1="268.10" x2="327.68" y2="273.10" stroke="#ef5350" stroke-width="0.72"/>
<rect x="326.63" y="252.20" width="2.1" height="15.90" fill="#ef5350" fill-opacity="0.04" stroke="#ef5350" stroke-width="0.5"/>
<line x1="330.89" y1="256.90" x2="330.89" y2="268.10" stroke="#ef5350" stroke-width="0.72"/>
<line x1="330.89" y1="271.20" x2="330.89" y2="276.20" stroke="#ef5350" stroke-width="0.72"/>
<rect x="329.84" y="268.10" width="2.1" height="3.10" fill="#ef5350" fill-opacity="0.04" stroke="#ef5350" stroke-width="0.5"/>
<line x1="334.11" y1="261.20" x2="334.11" y2="275.60" stroke="#26a69a" stroke-width="1.5" stroke-opacity="0.42"/>
<rect x="332.81" y="266.20" width="2.6" height="5.00" fill="#26a69a" fill-opacity="0.42"/>
<line x1="337.32" y1="254.70" x2="337.32" y2="266.20" stroke="#ef5350" stroke-width="0.72"/>
<line x1="337.32" y1="326.20" x2="337.32" y2="329.40" stroke="#ef5350" stroke-width="0.72"/>
<rect x="336.27" y="266.20" width="2.1" height="60.00" fill="#ef5350" fill-opacity="0.04" stroke="#ef5350" stroke-width="0.5"/>
<line x1="340.53" y1="301.90" x2="340.53" y2="309.60" stroke="#26a69a" stroke-width="0.72"/>
<line x1="340.53" y1="326.20" x2="340.53" y2="331.90" stroke="#26a69a" stroke-width="0.72"/>
<rect x="339.48" y="309.60" width="2.1" height="16.60" fill="#26a69a" fill-opacity="0.04" stroke="#26a69a" stroke-width="0.5"/>
<line x1="343.74" y1="301.90" x2="343.74" y2="309.60" stroke="#ef5350" stroke-width="0.72"/>
<line x1="343.74" y1="310.80" x2="343.74" y2="313.70" stroke="#ef5350" stroke-width="0.72"/>
<rect x="342.69" y="309.60" width="2.1" height="1.20" fill="#ef5350" fill-opacity="0.04" stroke="#ef5350" stroke-width="0.5"/>
<line x1="346.96" y1="285.00" x2="346.96" y2="286.20" stroke="#26a69a" stroke-width="0.72"/>
<line x1="346.96" y1="310.40" x2="346.96" y2="322.50" stroke="#26a69a" stroke-width="0.72"/>
<rect x="345.91" y="286.20" width="2.1" height="24.20" fill="#26a69a" fill-opacity="0.04" stroke="#26a69a" stroke-width="0.5"/>
<line x1="350.17" y1="274.40" x2="350.17" y2="278.10" stroke="#26a69a" stroke-width="0.72"/>
<line x1="350.17" y1="286.20" x2="350.17" y2="291.90" stroke="#26a69a" stroke-width="0.72"/>
<rect x="349.12" y="278.10" width="2.1" height="8.10" fill="#26a69a" fill-opacity="0.04" stroke="#26a69a" stroke-width="0.5"/>
<line x1="353.38" y1="245.00" x2="353.38" y2="261.20" stroke="#26a69a" stroke-width="0.72"/>
<line x1="353.38" y1="278.10" x2="353.38" y2="286.20" stroke="#26a69a" stroke-width="0.72"/>
<rect x="352.33" y="261.20" width="2.1" height="16.90" fill="#26a69a" fill-opacity="0.04" stroke="#26a69a" stroke-width="0.5"/>
<line x1="356.60" y1="238.50" x2="356.60" y2="253.10" stroke="#26a69a" stroke-width="0.72"/>
<line x1="356.60" y1="261.20" x2="356.60" y2="261.80" stroke="#26a69a" stroke-width="0.72"/>
<rect x="355.55" y="253.10" width="2.1" height="8.10" fill="#26a69a" fill-opacity="0.04" stroke="#26a69a" stroke-width="0.5"/>
<line x1="359.81" y1="221.20" x2="359.81" y2="227.70" stroke="#26a69a" stroke-width="0.72"/>
<line x1="359.81" y1="253.10" x2="359.81" y2="262.50" stroke="#26a69a" stroke-width="0.72"/>
<rect x="358.76" y="227.70" width="2.1" height="25.40" fill="#26a69a" fill-opacity="0.04" stroke="#26a69a" stroke-width="0.5"/>
<line x1="363.02" y1="219.20" x2="363.02" y2="241.20" stroke="#ef5350" stroke-width="1.5" stroke-opacity="0.42"/>
<rect x="361.72" y="227.40" width="2.6" height="9.50" fill="#ef5350" fill-opacity="0.42"/>
<line x1="366.23" y1="234.00" x2="366.23" y2="236.90" stroke="#ef5350" stroke-width="0.72"/>
<line x1="366.23" y1="245.00" x2="366.23" y2="248.10" stroke="#ef5350" stroke-width="0.72"/>
<rect x="365.18" y="236.90" width="2.1" height="8.10" fill="#ef5350" fill-opacity="0.04" stroke="#ef5350" stroke-width="0.5"/>
<line x1="369.45" y1="229.40" x2="369.45" y2="230.20" stroke="#26a69a" stroke-width="0.72"/>
<line x1="369.45" y1="245.10" x2="369.45" y2="246.90" stroke="#26a69a" stroke-width="0.72"/>
<rect x="368.40" y="230.20" width="2.1" height="14.90" fill="#26a69a" fill-opacity="0.04" stroke="#26a69a" stroke-width="0.5"/>
<line x1="372.66" y1="225.00" x2="372.66" y2="230.40" stroke="#ef5350" stroke-width="0.72"/>
<line x1="372.66" y1="234.40" x2="372.66" y2="238.10" stroke="#ef5350" stroke-width="0.72"/>
<rect x="371.61" y="230.40" width="2.1" height="4.00" fill="#ef5350" fill-opacity="0.04" stroke="#ef5350" stroke-width="0.5"/>
<line x1="375.87" y1="198.10" x2="375.87" y2="205.60" stroke="#26a69a" stroke-width="0.72"/>
<line x1="375.87" y1="234.40" x2="375.87" y2="235.00" stroke="#26a69a" stroke-width="0.72"/>
<rect x="374.82" y="205.60" width="2.1" height="28.80" fill="#26a69a" fill-opacity="0.04" stroke="#26a69a" stroke-width="0.5"/>
<line x1="379.08" y1="200.00" x2="379.08" y2="205.60" stroke="#ef5350" stroke-width="0.72"/>
<line x1="379.08" y1="207.00" x2="379.08" y2="215.60" stroke="#ef5350" stroke-width="0.72"/>
<rect x="378.03" y="205.60" width="2.1" height="1.40" fill="#ef5350" fill-opacity="0.04" stroke="#ef5350" stroke-width="0.5"/>
<line x1="382.30" y1="188.10" x2="382.30" y2="200.00" stroke="#26a69a" stroke-width="0.72"/>
<line x1="382.30" y1="206.70" x2="382.30" y2="207.20" stroke="#26a69a" stroke-width="0.72"/>
<rect x="381.25" y="200.00" width="2.1" height="6.70" fill="#26a69a" fill-opacity="0.04" stroke="#26a69a" stroke-width="0.5"/>
<line x1="385.51" y1="184.00" x2="385.51" y2="196.90" stroke="#26a69a" stroke-width="0.72"/>
<line x1="385.51" y1="200.00" x2="385.51" y2="210.00" stroke="#26a69a" stroke-width="0.72"/>
<rect x="384.46" y="196.90" width="2.1" height="3.10" fill="#26a69a" fill-opacity="0.04" stroke="#26a69a" stroke-width="0.5"/>
<line x1="388.72" y1="196.50" x2="388.72" y2="196.90" stroke="#ef5350" stroke-width="0.72"/>
<line x1="388.72" y1="216.20" x2="388.72" y2="216.90" stroke="#ef5350" stroke-width="0.72"/>
<rect x="387.67" y="196.90" width="2.1" height="19.30" fill="#ef5350" fill-opacity="0.04" stroke="#ef5350" stroke-width="0.5"/>
<line x1="391.94" y1="207.20" x2="391.94" y2="214.80" stroke="#26a69a" stroke-width="0.72"/>
<line x1="391.94" y1="216.20" x2="391.94" y2="220.00" stroke="#26a69a" stroke-width="0.72"/>
<rect x="390.89" y="214.80" width="2.1" height="1.40" fill="#26a69a" fill-opacity="0.04" stroke="#26a69a" stroke-width="0.5"/>
<line x1="395.15" y1="211.90" x2="395.15" y2="215.10" stroke="#ef5350" stroke-width="0.72"/>
<line x1="395.15" y1="228.10" x2="395.15" y2="235.00" stroke="#ef5350" stroke-width="0.72"/>
<rect x="394.10" y="215.10" width="2.1" height="13.00" fill="#ef5350" fill-opacity="0.04" stroke="#ef5350" stroke-width="0.5"/>
<line x1="398.36" y1="206.00" x2="398.36" y2="225.60" stroke="#26a69a" stroke-width="0.72"/>
<line x1="398.36" y1="228.10" x2="398.36" y2="242.50" stroke="#26a69a" stroke-width="0.72"/>
<rect x="397.31" y="225.60" width="2.1" height="2.50" fill="#26a69a" fill-opacity="0.04" stroke="#26a69a" stroke-width="0.5"/>
<line x1="401.57" y1="216.90" x2="401.57" y2="225.40" stroke="#ef5350" stroke-width="0.72"/>
<line x1="401.57" y1="229.40" x2="401.57" y2="242.50" stroke="#ef5350" stroke-width="0.72"/>
<rect x="400.52" y="225.40" width="2.1" height="4.00" fill="#ef5350" fill-opacity="0.04" stroke="#ef5350" stroke-width="0.5"/>
<line x1="404.79" y1="195.60" x2="404.79" y2="214.40" stroke="#26a69a" stroke-width="0.72"/>
<line x1="404.79" y1="229.40" x2="404.79" y2="230.00" stroke="#26a69a" stroke-width="0.72"/>
<rect x="403.74" y="214.40" width="2.1" height="15.00" fill="#26a69a" fill-opacity="0.04" stroke="#26a69a" stroke-width="0.5"/>
<line x1="408.00" y1="204.40" x2="408.00" y2="219.40" stroke="#26a69a" stroke-width="1.5" stroke-opacity="0.42"/>
<rect x="406.70" y="206.90" width="2.6" height="7.50" fill="#26a69a" fill-opacity="0.42"/>
<line x1="411.21" y1="206.20" x2="411.21" y2="218.70" stroke="#26a69a" stroke-width="1.5" stroke-opacity="0.42"/>
<rect x="409.91" y="206.90" width="2.6" height="6.80" fill="#26a69a" fill-opacity="0.42"/>
<line x1="414.43" y1="190.00" x2="414.43" y2="206.20" stroke="#ef5350" stroke-width="0.72"/>
<line x1="414.43" y1="222.60" x2="414.43" y2="229.40" stroke="#ef5350" stroke-width="0.72"/>
<rect x="413.38" y="206.20" width="2.1" height="16.40" fill="#ef5350" fill-opacity="0.04" stroke="#ef5350" stroke-width="0.5"/>
<line x1="417.64" y1="201.20" x2="417.64" y2="206.90" stroke="#26a69a" stroke-width="0.72"/>
<line x1="417.64" y1="222.60" x2="417.64" y2="226.40" stroke="#26a69a" stroke-width="0.72"/>
<rect x="416.59" y="206.90" width="2.1" height="15.70" fill="#26a69a" fill-opacity="0.04" stroke="#26a69a" stroke-width="0.5"/>
<line x1="420.85" y1="206.00" x2="420.85" y2="216.00" stroke="#ef5350" stroke-width="1.5" stroke-opacity="0.42"/>
<rect x="419.55" y="206.50" width="2.6" height="7.30" fill="#ef5350" fill-opacity="0.42"/>
<line x1="424.06" y1="196.90" x2="424.06" y2="198.10" stroke="#26a69a" stroke-width="0.72"/>
<line x1="424.06" y1="213.70" x2="424.06" y2="217.20" stroke="#26a69a" stroke-width="0.72"/>
<rect x="423.01" y="198.10" width="2.1" height="15.60" fill="#26a69a" fill-opacity="0.04" stroke="#26a69a" stroke-width="0.5"/>
<line x1="427.28" y1="190.60" x2="427.28" y2="201.20" stroke="#26a69a" stroke-width="1.5" stroke-opacity="0.42"/>
<rect x="425.98" y="191.20" width="2.6" height="7.30" fill="#26a69a" fill-opacity="0.42"/>
<line x1="430.49" y1="186.20" x2="430.49" y2="191.20" stroke="#ef5350" stroke-width="0.72"/>
<line x1="430.49" y1="193.10" x2="430.49" y2="197.50" stroke="#ef5350" stroke-width="0.72"/>
<rect x="429.44" y="191.20" width="2.1" height="1.90" fill="#ef5350" fill-opacity="0.04" stroke="#ef5350" stroke-width="0.5"/>
<line x1="433.70" y1="176.90" x2="433.70" y2="193.10" stroke="#ef5350" stroke-width="0.72"/>
<line x1="433.70" y1="206.90" x2="433.70" y2="211.60" stroke="#ef5350" stroke-width="0.72"/>
<rect x="432.65" y="193.10" width="2.1" height="13.80" fill="#ef5350" fill-opacity="0.04" stroke="#ef5350" stroke-width="0.5"/>
<line x1="436.92" y1="202.50" x2="436.92" y2="225.40" stroke="#ef5350" stroke-width="1.5" stroke-opacity="0.42"/>
<rect x="435.62" y="206.70" width="2.6" height="17.70" fill="#ef5350" fill-opacity="0.42"/>
<line x1="440.13" y1="220.30" x2="440.13" y2="224.40" stroke="#ef5350" stroke-width="0.72"/>
<line x1="440.13" y1="230.60" x2="440.13" y2="231.90" stroke="#ef5350" stroke-width="0.72"/>
<rect x="439.08" y="224.40" width="2.1" height="6.20" fill="#ef5350" fill-opacity="0.04" stroke="#ef5350" stroke-width="0.5"/>
<line x1="443.34" y1="226.20" x2="443.34" y2="230.00" stroke="#26a69a" stroke-width="0.72"/>
<line x1="443.34" y1="231.20" x2="443.34" y2="241.20" stroke="#26a69a" stroke-width="0.72"/>
<rect x="442.29" y="230.00" width="2.1" height="1.20" fill="#26a69a" fill-opacity="0.04" stroke="#26a69a" stroke-width="0.5"/>
<line x1="446.55" y1="228.70" x2="446.55" y2="230.00" stroke="#ef5350" stroke-width="0.72"/>
<line x1="446.55" y1="236.90" x2="446.55" y2="238.70" stroke="#ef5350" stroke-width="0.72"/>
<rect x="445.50" y="230.00" width="2.1" height="6.90" fill="#ef5350" fill-opacity="0.04" stroke="#ef5350" stroke-width="0.5"/>
<line x1="449.77" y1="221.90" x2="449.77" y2="223.10" stroke="#26a69a" stroke-width="0.72"/>
<line x1="449.77" y1="236.90" x2="449.77" y2="239.70" stroke="#26a69a" stroke-width="0.72"/>
<rect x="448.72" y="223.10" width="2.1" height="13.80" fill="#26a69a" fill-opacity="0.04" stroke="#26a69a" stroke-width="0.5"/>
<line x1="452.98" y1="200.00" x2="452.98" y2="233.10" stroke="#26a69a" stroke-width="1.5" stroke-opacity="0.42"/>
<rect x="451.68" y="207.50" width="2.6" height="15.60" fill="#26a69a" fill-opacity="0.42"/>
<line x1="456.19" y1="195.60" x2="456.19" y2="207.50" stroke="#ef5350" stroke-width="0.72"/>
<line x1="456.19" y1="217.40" x2="456.19" y2="238.10" stroke="#ef5350" stroke-width="0.72"/>
<rect x="455.14" y="207.50" width="2.1" height="9.90" fill="#ef5350" fill-opacity="0.04" stroke="#ef5350" stroke-width="0.5"/>
<line x1="459.40" y1="211.50" x2="459.40" y2="217.40" stroke="#ef5350" stroke-width="0.72"/>
<line x1="459.40" y1="223.50" x2="459.40" y2="224.40" stroke="#ef5350" stroke-width="0.72"/>
<rect x="458.35" y="217.40" width="2.1" height="6.10" fill="#ef5350" fill-opacity="0.04" stroke="#ef5350" stroke-width="0.5"/>
<line x1="462.62" y1="215.00" x2="462.62" y2="223.50" stroke="#ef5350" stroke-width="0.72"/>
<line x1="462.62" y1="224.40" x2="462.62" y2="228.10" stroke="#ef5350" stroke-width="0.72"/>
<rect x="461.57" y="223.50" width="2.1" height="0.90" fill="#ef5350" fill-opacity="0.04" stroke="#ef5350" stroke-width="0.5"/>
<line x1="465.83" y1="204.40" x2="465.83" y2="225.60" stroke="#26a69a" stroke-width="1.5" stroke-opacity="0.42"/>
<rect x="464.53" y="211.20" width="2.6" height="13.20" fill="#26a69a" fill-opacity="0.42"/>
<line x1="469.04" y1="210.00" x2="469.04" y2="211.20" stroke="#ef5350" stroke-width="0.72"/>
<line x1="469.04" y1="213.70" x2="469.04" y2="220.60" stroke="#ef5350" stroke-width="0.72"/>
<rect x="467.99" y="211.20" width="2.1" height="2.50" fill="#ef5350" fill-opacity="0.04" stroke="#ef5350" stroke-width="0.5"/>
<line x1="472.26" y1="208.10" x2="472.26" y2="213.60" stroke="#ef5350" stroke-width="0.72"/>
<line x1="472.26" y1="214.50" x2="472.26" y2="230.00" stroke="#ef5350" stroke-width="0.72"/>
<rect x="471.21" y="213.60" width="2.1" height="0.90" fill="#ef5350" fill-opacity="0.04" stroke="#ef5350" stroke-width="0.5"/>
<line x1="475.47" y1="196.20" x2="475.47" y2="207.50" stroke="#26a69a" stroke-width="0.72"/>
<line x1="475.47" y1="214.40" x2="475.47" y2="216.90" stroke="#26a69a" stroke-width="0.72"/>
<rect x="474.42" y="207.50" width="2.1" height="6.90" fill="#26a69a" fill-opacity="0.04" stroke="#26a69a" stroke-width="0.5"/>
<line x1="478.68" y1="203.10" x2="478.68" y2="206.50" stroke="#26a69a" stroke-width="0.72"/>
<line x1="478.68" y1="207.50" x2="478.68" y2="210.60" stroke="#26a69a" stroke-width="0.72"/>
<rect x="477.63" y="206.50" width="2.1" height="1.00" fill="#26a69a" fill-opacity="0.04" stroke="#26a69a" stroke-width="0.5"/>
<line x1="481.89" y1="203.70" x2="481.89" y2="206.50" stroke="#ef5350" stroke-width="0.72"/>
<line x1="481.89" y1="208.70" x2="481.89" y2="210.00" stroke="#ef5350" stroke-width="0.72"/>
<rect x="480.84" y="206.50" width="2.1" height="2.20" fill="#ef5350" fill-opacity="0.04" stroke="#ef5350" stroke-width="0.5"/>
<line x1="485.11" y1="208.10" x2="485.11" y2="209.00" stroke="#ef5350" stroke-width="0.72"/>
<line x1="485.11" y1="211.90" x2="485.11" y2="216.20" stroke="#ef5350" stroke-width="0.72"/>
<rect x="484.06" y="209.00" width="2.1" height="2.90" fill="#ef5350" fill-opacity="0.04" stroke="#ef5350" stroke-width="0.5"/>
<line x1="488.32" y1="209.40" x2="488.32" y2="210.60" stroke="#26a69a" stroke-width="0.72"/>
<line x1="488.32" y1="211.90" x2="488.32" y2="215.60" stroke="#26a69a" stroke-width="0.72"/>
<rect x="487.27" y="210.60" width="2.1" height="1.30" fill="#26a69a" fill-opacity="0.04" stroke="#26a69a" stroke-width="0.5"/>
<line x1="491.53" y1="210.00" x2="491.53" y2="211.90" stroke="#ef5350" stroke-width="0.72"/>
<line x1="491.53" y1="218.10" x2="491.53" y2="218.70" stroke="#ef5350" stroke-width="0.72"/>
<rect x="490.48" y="211.90" width="2.1" height="6.20" fill="#ef5350" fill-opacity="0.04" stroke="#ef5350" stroke-width="0.5"/>
<line x1="494.75" y1="211.90" x2="494.75" y2="214.40" stroke="#26a69a" stroke-width="0.72"/>
<line x1="494.75" y1="218.10" x2="494.75" y2="218.70" stroke="#26a69a" stroke-width="0.72"/>
<rect x="493.70" y="214.40" width="2.1" height="3.70" fill="#26a69a" fill-opacity="0.04" stroke="#26a69a" stroke-width="0.5"/>
<line x1="497.96" y1="211.20" x2="497.96" y2="214.10" stroke="#ef5350" stroke-width="0.72"/>
<line x1="497.96" y1="215.00" x2="497.96" y2="216.90" stroke="#ef5350" stroke-width="0.72"/>
<rect x="496.91" y="214.10" width="2.1" height="0.90" fill="#ef5350" fill-opacity="0.04" stroke="#ef5350" stroke-width="0.5"/>
<line x1="501.17" y1="206.20" x2="501.17" y2="208.00" stroke="#26a69a" stroke-width="0.72"/>
<line x1="501.17" y1="215.00" x2="501.17" y2="216.90" stroke="#26a69a" stroke-width="0.72"/>
<rect x="500.12" y="208.00" width="2.1" height="7.00" fill="#26a69a" fill-opacity="0.04" stroke="#26a69a" stroke-width="0.5"/>
<line x1="504.38" y1="200.60" x2="504.38" y2="201.20" stroke="#26a69a" stroke-width="0.72"/>
<line x1="504.38" y1="207.50" x2="504.38" y2="208.10" stroke="#26a69a" stroke-width="0.72"/>
<rect x="503.33" y="201.20" width="2.1" height="6.30" fill="#26a69a" fill-opacity="0.04" stroke="#26a69a" stroke-width="0.5"/>
<line x1="507.60" y1="196.90" x2="507.60" y2="201.00" stroke="#ef5350" stroke-width="0.72"/>
<line x1="507.60" y1="201.90" x2="507.60" y2="203.70" stroke="#ef5350" stroke-width="0.72"/>
<rect x="506.55" y="201.00" width="2.1" height="0.90" fill="#ef5350" fill-opacity="0.04" stroke="#ef5350" stroke-width="0.5"/>
<line x1="510.81" y1="193.50" x2="510.81" y2="201.15" stroke="#ef5350" stroke-width="0.72"/>
<line x1="510.81" y1="202.05" x2="510.81" y2="203.70" stroke="#ef5350" stroke-width="0.72"/>
<rect x="509.76" y="201.15" width="2.1" height="0.90" fill="#ef5350" fill-opacity="0.04" stroke="#ef5350" stroke-width="0.5"/>
<line x1="514.02" y1="199.40" x2="514.02" y2="201.20" stroke="#ef5350" stroke-width="0.72"/>
<line x1="514.02" y1="203.70" x2="514.02" y2="210.60" stroke="#ef5350" stroke-width="0.72"/>
<rect x="512.97" y="201.20" width="2.1" height="2.50" fill="#ef5350" fill-opacity="0.04" stroke="#ef5350" stroke-width="0.5"/>
<line x1="517.24" y1="198.10" x2="517.24" y2="202.50" stroke="#ef5350" stroke-width="0.72"/>
<line x1="517.24" y1="204.40" x2="517.24" y2="205.00" stroke="#ef5350" stroke-width="0.72"/>
<rect x="516.19" y="202.50" width="2.1" height="1.90" fill="#ef5350" fill-opacity="0.04" stroke="#ef5350" stroke-width="0.5"/>
<line x1="520.45" y1="199.40" x2="520.45" y2="202.50" stroke="#26a69a" stroke-width="0.72"/>
<line x1="520.45" y1="204.40" x2="520.45" y2="205.00" stroke="#26a69a" stroke-width="0.72"/>
<rect x="519.40" y="202.50" width="2.1" height="1.90" fill="#26a69a" fill-opacity="0.04" stroke="#26a69a" stroke-width="0.5"/>
<line x1="523.66" y1="200.60" x2="523.66" y2="202.50" stroke="#ef5350" stroke-width="0.72"/>
<line x1="523.66" y1="210.00" x2="523.66" y2="211.90" stroke="#ef5350" stroke-width="0.72"/>
<rect x="522.61" y="202.50" width="2.1" height="7.50" fill="#ef5350" fill-opacity="0.04" stroke="#ef5350" stroke-width="0.5"/>
<line x1="526.87" y1="208.70" x2="526.87" y2="225.20" stroke="#ef5350" stroke-width="1.5" stroke-opacity="0.42"/>
<rect x="525.57" y="209.70" width="2.6" height="12.50" fill="#ef5350" fill-opacity="0.42"/>
<line x1="530.09" y1="212.50" x2="530.09" y2="222.50" stroke="#26a69a" stroke-width="1.5" stroke-opacity="0.42"/>
<rect x="528.79" y="219.40" width="2.6" height="2.80" fill="#26a69a" fill-opacity="0.42"/>
<line x1="533.30" y1="211.90" x2="533.30" y2="218.80" stroke="#26a69a" stroke-width="1.5" stroke-opacity="0.42"/>
<rect x="532.00" y="212.70" width="2.6" height="5.80" fill="#26a69a" fill-opacity="0.42"/>
<line x1="536.51" y1="200.00" x2="536.51" y2="202.50" stroke="#26a69a" stroke-width="0.72"/>
<line x1="536.51" y1="212.70" x2="536.51" y2="213.10" stroke="#26a69a" stroke-width="0.72"/>
<rect x="535.46" y="202.50" width="2.1" height="10.20" fill="#26a69a" fill-opacity="0.04" stroke="#26a69a" stroke-width="0.5"/>
<line x1="539.72" y1="155.10" x2="539.72" y2="163.20" stroke="#26a69a" stroke-width="0.72"/>
<line x1="539.72" y1="202.50" x2="539.72" y2="203.00" stroke="#26a69a" stroke-width="0.72"/>
<rect x="538.67" y="163.20" width="2.1" height="39.30" fill="#26a69a" fill-opacity="0.04" stroke="#26a69a" stroke-width="0.5"/>
<line x1="542.94" y1="153.90" x2="542.94" y2="159.50" stroke="#26a69a" stroke-width="0.72"/>
<line x1="542.94" y1="163.20" x2="542.94" y2="165.50" stroke="#26a69a" stroke-width="0.72"/>
<rect x="541.89" y="159.50" width="2.1" height="3.70" fill="#26a69a" fill-opacity="0.04" stroke="#26a69a" stroke-width="0.5"/>
<line x1="546.15" y1="152.00" x2="546.15" y2="172.60" stroke="#ef5350" stroke-width="1.5" stroke-opacity="0.42"/>
<rect x="544.85" y="159.50" width="2.6" height="7.70" fill="#ef5350" fill-opacity="0.42"/>
<line x1="549.36" y1="137.00" x2="549.36" y2="145.70" stroke="#26a69a" stroke-width="0.72"/>
<line x1="549.36" y1="167.20" x2="549.36" y2="170.10" stroke="#26a69a" stroke-width="0.72"/>
<rect x="548.31" y="145.70" width="2.1" height="21.50" fill="#26a69a" fill-opacity="0.04" stroke="#26a69a" stroke-width="0.5"/>
<line x1="552.58" y1="142.00" x2="552.58" y2="145.70" stroke="#ef5350" stroke-width="0.72"/>
<line x1="552.58" y1="158.50" x2="552.58" y2="177.60" stroke="#ef5350" stroke-width="0.72"/>
<rect x="551.53" y="145.70" width="2.1" height="12.80" fill="#ef5350" fill-opacity="0.04" stroke="#ef5350" stroke-width="0.5"/>
<line x1="555.79" y1="155.10" x2="555.79" y2="157.00" stroke="#26a69a" stroke-width="0.72"/>
<line x1="555.79" y1="158.50" x2="555.79" y2="167.60" stroke="#26a69a" stroke-width="0.72"/>
<rect x="554.74" y="157.00" width="2.1" height="1.50" fill="#26a69a" fill-opacity="0.04" stroke="#26a69a" stroke-width="0.5"/>
<line x1="559.00" y1="130.70" x2="559.00" y2="143.90" stroke="#26a69a" stroke-width="0.72"/>
<line x1="559.00" y1="157.00" x2="559.00" y2="163.90" stroke="#26a69a" stroke-width="0.72"/>
<rect x="557.95" y="143.90" width="2.1" height="13.10" fill="#26a69a" fill-opacity="0.04" stroke="#26a69a" stroke-width="0.5"/>
<line x1="562.21" y1="138.90" x2="562.21" y2="142.00" stroke="#26a69a" stroke-width="0.72"/>
<line x1="562.21" y1="143.90" x2="562.21" y2="147.00" stroke="#26a69a" stroke-width="0.72"/>
<rect x="561.16" y="142.00" width="2.1" height="1.90" fill="#26a69a" fill-opacity="0.04" stroke="#26a69a" stroke-width="0.5"/>
<polyline points="5.0,237.6 8.5,234.3 12.8,231.1 15.7,230.0 25.5,229.4 29.8,226.9 34.0,225.2 44.2,224.3 48.5,222.9 55.3,221.5 62.9,220.9 68.0,219.8 75.0,218.8 87.5,218.2 97.5,218.1 110.0,218.7 122.5,219.1 135.0,220.0 147.5,221.0 160.0,221.4 165.0,221.2 177.5,220.6 183.0,219.8 187.0,219.4 196.0,219.4 202.5,220.6 208.0,221.0 215.0,221.2 227.5,222.3 240.0,222.5 260.0,222.3 262.0,222.8 270.0,228.7 275.0,232.5 280.0,236.9 283.0,238.0 287.5,238.7 296.0,239.4 302.5,243.1 310.0,245.8 315.0,247.5 320.0,249.4 335.0,250.0 340.0,251.9 352.5,252.2 377.5,251.5 400.0,251.1 415.0,249.8 450.0,249.2 500.0,247.3 540.0,246.6 550.0,246.0 556.0,244.5 562.5,243.0" fill="none" stroke="#1e78d4" stroke-width="1.35" stroke-linejoin="round" stroke-linecap="round"/>
<polyline points="5.0,55.5 25.0,57.5 50.0,58.8 70.0,60.2 87.5,62.0 125.0,63.3 150.0,65.5 175.0,67.5 190.0,70.0 200.0,70.8 215.0,72.5 222.0,74.3 225.0,74.5 260.0,75.5 268.0,79.0 275.0,82.0 280.0,85.5 283.0,86.5 295.0,87.5 305.0,90.5 315.0,93.0 322.0,96.0 332.0,96.8 340.0,98.5 360.0,100.2 380.0,101.0 400.0,101.7 450.0,102.6 500.0,103.7 540.0,105.0 562.5,106.0" fill="none" stroke="#1e78d4" stroke-width="1.25" stroke-linejoin="round" stroke-linecap="round"/>
<rect x="314" y="346.4" width="225.8" height="28.2" fill="#ffffff" fill-opacity="0.078" stroke="#d8dce2" stroke-opacity="0.56" stroke-width="0.9"/>
<line x1="353" y1="190.2" x2="585" y2="176.4" stroke="#a4a8b0" stroke-opacity="0.68" stroke-width="0.85"/>
<line x1="353" y1="245.6" x2="585" y2="231.8" stroke="#a4a8b0" stroke-opacity="0.68" stroke-width="0.85"/>
<line x1="353" y1="217.9" x2="585" y2="204.1" stroke="#a4a8b0" stroke-opacity="0.7" stroke-width="0.8" stroke-dasharray="2.6 2.7"/>
<line x1="269.4" y1="229.75" x2="731" y2="229.75" stroke="#c4c1b0" stroke-opacity="0.8" stroke-width="1.0" stroke-dasharray="2.7 2.6"/>
<line x1="269.4" y1="332.9" x2="731" y2="332.9" stroke="#c4c1b0" stroke-opacity="0.8" stroke-width="1.0" stroke-dasharray="2.7 2.6"/>
<line x1="346.25" y1="236" x2="759" y2="236" stroke="#23760f" stroke-width="1.35"/>
<line x1="5" y1="160.1" x2="758.3" y2="160.1" stroke="#000" stroke-opacity="0.55" stroke-width="3.3"/>
<line x1="5" y1="160.1" x2="758.3" y2="160.1" stroke="#cbccd6" stroke-width="1.6"/>
<line x1="5" y1="72" x2="735.6" y2="275.45" stroke="#e6e6ea" stroke-width="1.55"/>
</g>
<text x="78.75" y="156.30" font-size="7.2" fill="#ffffff" font-weight="bold" textLength="53.00" lengthAdjust="spacingAndGlyphs">BEARISH rejection</text>
<text x="405.60" y="362.50" font-size="7.2" fill="#ffffff" font-weight="bold" textLength="42.30" lengthAdjust="spacingAndGlyphs">ORDER BLOCK</text>
<text x="734.00" y="232.20" font-size="7.0" fill="#ffffff" textLength="21.00" lengthAdjust="spacingAndGlyphs" stroke="#ffffff" stroke-width="0.22">PWclose</text>
<text x="726.90" y="243.00" font-size="7.0" fill="#33a814" textLength="28.10" lengthAdjust="spacingAndGlyphs" stroke="#33a814" stroke-width="0.28">Daily Level</text>
<text x="735.00" y="335.20" font-size="7.0" fill="#ffffff" textLength="20.00" lengthAdjust="spacingAndGlyphs" stroke="#ffffff" stroke-width="0.22">PWopen</text>
<text x="8.50" y="21.80" font-size="7.1" fill="#d0d3da" textLength="82.40" lengthAdjust="spacingAndGlyphs" stroke="#d0d3da" stroke-width="0.1">Bitcoin / U.S. Dollar · 4h · INDEX</text>
<text x="96.20" y="21.80" font-size="7.1" fill="#d0d3da" textLength="3.20" lengthAdjust="spacingAndGlyphs" stroke="#d0d3da" stroke-width="0.1">O</text>
<text x="99.50" y="21.80" font-size="7.1" fill="#2bb3a4" textLength="25.00" lengthAdjust="spacingAndGlyphs" stroke="#2bb3a4" stroke-width="0.1">88,137.41</text>
<text x="127.30" y="21.80" font-size="7.1" fill="#d0d3da" textLength="3.20" lengthAdjust="spacingAndGlyphs" stroke="#d0d3da" stroke-width="0.1">H</text>
<text x="130.60" y="21.80" font-size="7.1" fill="#2bb3a4" textLength="25.00" lengthAdjust="spacingAndGlyphs" stroke="#2bb3a4" stroke-width="0.1">88,374.10</text>
<text x="159.60" y="21.80" font-size="7.1" fill="#d0d3da" textLength="2.60" lengthAdjust="spacingAndGlyphs" stroke="#d0d3da" stroke-width="0.1">L</text>
<text x="162.60" y="21.80" font-size="7.1" fill="#2bb3a4" textLength="25.00" lengthAdjust="spacingAndGlyphs" stroke="#2bb3a4" stroke-width="0.1">87,952.72</text>
<text x="191.30" y="21.80" font-size="7.1" fill="#d0d3da" textLength="3.20" lengthAdjust="spacingAndGlyphs" stroke="#d0d3da" stroke-width="0.1">C</text>
<text x="194.50" y="21.80" font-size="7.1" fill="#2bb3a4" textLength="25.00" lengthAdjust="spacingAndGlyphs" stroke="#2bb3a4" stroke-width="0.1">88,226.92</text>
<text x="223.75" y="21.80" font-size="7.1" fill="#2bb3a4" textLength="40.00" lengthAdjust="spacingAndGlyphs" stroke="#2bb3a4" stroke-width="0.1">+89.51 (+0.10%)</text>
<text x="267.00" y="21.80" font-size="7.1" fill="#d0d3da" textLength="7.50" lengthAdjust="spacingAndGlyphs" stroke="#d0d3da" stroke-width="0.1">Vol</text>
<text x="274.60" y="21.80" font-size="7.1" fill="#2bb3a4" textLength="15.40" lengthAdjust="spacingAndGlyphs" stroke="#2bb3a4" stroke-width="0.1">2.02 K</text>
<text x="293.75" y="21.80" font-size="7.1" fill="#2bb3a4" textLength="43.20" lengthAdjust="spacingAndGlyphs" stroke="#2bb3a4" stroke-width="0.1">+727.03 (+0.83%)</text>
<text x="9.00" y="30.20" font-size="7.1" fill="#d0d3da" textLength="7.00" lengthAdjust="spacingAndGlyphs" stroke="#d0d3da" stroke-width="0.1">Vol</text>
<text x="20.00" y="30.20" font-size="7.1" fill="#2bb3a4" textLength="14.40" lengthAdjust="spacingAndGlyphs" stroke="#2bb3a4" stroke-width="0.1">2.02K</text>
<line x1="5.3" y1="26" x2="758.3" y2="26" stroke="#000" stroke-opacity="0.55" stroke-width="3.2"/>
<line x1="5.3" y1="26" x2="758.3" y2="26" stroke="#cbccd6" stroke-width="1.5"/>
<text x="122.75" y="22.60" font-size="7.2" fill="#ffffff" font-weight="bold" textLength="47.80" lengthAdjust="spacingAndGlyphs">BULLISH reclaim</text>
<text x="762.50" y="32.55" font-size="7.1" fill="#d1d4dc" textLength="25.40" lengthAdjust="spacingAndGlyphs">94,000.00</text>
<text x="762.50" y="51.91" font-size="7.1" fill="#d1d4dc" textLength="25.40" lengthAdjust="spacingAndGlyphs">93,000.00</text>
<text x="762.50" y="71.26" font-size="7.1" fill="#d1d4dc" textLength="25.40" lengthAdjust="spacingAndGlyphs">92,000.00</text>
<text x="762.50" y="90.62" font-size="7.1" fill="#d1d4dc" textLength="25.40" lengthAdjust="spacingAndGlyphs">91,000.00</text>
<text x="762.50" y="109.98" font-size="7.1" fill="#d1d4dc" textLength="25.40" lengthAdjust="spacingAndGlyphs">90,000.00</text>
<text x="762.50" y="129.34" font-size="7.1" fill="#d1d4dc" textLength="25.40" lengthAdjust="spacingAndGlyphs">89,000.00</text>
<text x="762.50" y="148.69" font-size="7.1" fill="#d1d4dc" textLength="25.40" lengthAdjust="spacingAndGlyphs">88,000.00</text>
<text x="762.50" y="168.05" font-size="7.1" fill="#d1d4dc" textLength="25.40" lengthAdjust="spacingAndGlyphs">87,000.00</text>
<text x="762.50" y="187.41" font-size="7.1" fill="#d1d4dc" textLength="25.40" lengthAdjust="spacingAndGlyphs">86,000.00</text>
<text x="762.50" y="206.76" font-size="7.1" fill="#d1d4dc" textLength="25.40" lengthAdjust="spacingAndGlyphs">85,000.00</text>
<text x="762.50" y="226.12" font-size="7.1" fill="#d1d4dc" textLength="25.40" lengthAdjust="spacingAndGlyphs">84,000.00</text>
<text x="762.50" y="245.48" font-size="7.1" fill="#d1d4dc" textLength="25.40" lengthAdjust="spacingAndGlyphs">83,000.00</text>
<text x="762.50" y="264.83" font-size="7.1" fill="#d1d4dc" textLength="25.40" lengthAdjust="spacingAndGlyphs">82,000.00</text>
<text x="762.50" y="284.19" font-size="7.1" fill="#d1d4dc" textLength="25.40" lengthAdjust="spacingAndGlyphs">81,000.00</text>
<text x="762.50" y="303.55" font-size="7.1" fill="#d1d4dc" textLength="25.40" lengthAdjust="spacingAndGlyphs">80,000.00</text>
<text x="762.50" y="322.90" font-size="7.1" fill="#d1d4dc" textLength="25.40" lengthAdjust="spacingAndGlyphs">79,000.00</text>
<text x="762.50" y="342.26" font-size="7.1" fill="#d1d4dc" textLength="25.40" lengthAdjust="spacingAndGlyphs">78,000.00</text>
<text x="762.50" y="361.62" font-size="7.1" fill="#d1d4dc" textLength="25.40" lengthAdjust="spacingAndGlyphs">77,000.00</text>
<text x="762.50" y="380.98" font-size="7.1" fill="#d1d4dc" textLength="25.40" lengthAdjust="spacingAndGlyphs">76,000.00</text>
<text x="762.50" y="400.33" font-size="7.1" fill="#d1d4dc" textLength="25.40" lengthAdjust="spacingAndGlyphs">75,000.00</text>
<text x="762.50" y="419.69" font-size="7.1" fill="#d1d4dc" textLength="25.40" lengthAdjust="spacingAndGlyphs">74,000.00</text>
<text x="762.50" y="439.05" font-size="7.1" fill="#d1d4dc" textLength="25.40" lengthAdjust="spacingAndGlyphs">73,000.00</text>
<rect x="759.1" y="12.9" width="36" height="16" fill="#081424"/>
<rect x="760.1" y="14.3" width="33.6" height="12.7" rx="1.8" fill="#141414" stroke="#2b2f3a" stroke-width="0.7"/>
<text x="763.90" y="23.60" font-size="7.1" fill="#f0f0f0" textLength="10.50" lengthAdjust="spacingAndGlyphs">USD</text>
<rect x="758.7" y="137.9" width="31.3" height="15.20" fill="#26a69a"/>
<text x="762.50" y="144.30" font-size="7.1" fill="#ffffff" textLength="25.40" lengthAdjust="spacingAndGlyphs" stroke="#ffffff" stroke-width="0.15">88,226.92</text>
<text x="762.50" y="151.00" font-size="7.1" fill="#ffffff" textLength="13.20" lengthAdjust="spacingAndGlyphs" fill-opacity="0.8">47:46</text>
<rect x="758.7" y="153.1" width="31.3" height="7.60" fill="#5c5a55"/>
<text x="762.50" y="159.45" font-size="7.1" fill="#ffffff" textLength="25.40" lengthAdjust="spacingAndGlyphs" stroke="#ffffff" stroke-width="0.15">87,500.17</text>
<rect x="758.7" y="226" width="31.3" height="7.80" fill="#fdf7c6"/>
<text x="762.50" y="232.40" font-size="7.1" fill="#15171c" textLength="25.40" lengthAdjust="spacingAndGlyphs" stroke="#15171c" stroke-width="0.15">83,710.02</text>
<rect x="758.7" y="233.8" width="31.3" height="7.70" fill="#32cd14"/>
<text x="762.50" y="240.25" font-size="7.1" fill="#15171c" textLength="25.40" lengthAdjust="spacingAndGlyphs" stroke="#15171c" stroke-width="0.15">83,389.14</text>
<rect x="758.7" y="328.8" width="31.3" height="8.10" fill="#fdf7c6"/>
<text x="762.50" y="335.40" font-size="7.1" fill="#15171c" textLength="25.40" lengthAdjust="spacingAndGlyphs" stroke="#15171c" stroke-width="0.15">78,393.74</text>
<text x="16.00" y="453.20" font-size="7.1" fill="#d1d4dc" textLength="6.50" lengthAdjust="spacingAndGlyphs">25</text>
<text x="54.55" y="453.20" font-size="7.1" fill="#d1d4dc" textLength="6.50" lengthAdjust="spacingAndGlyphs">27</text>
<text x="93.11" y="453.20" font-size="7.1" fill="#d1d4dc" textLength="6.50" lengthAdjust="spacingAndGlyphs">29</text>
<text x="149.24" y="453.20" font-size="7.1" fill="#d1d4dc" textLength="9.90" lengthAdjust="spacingAndGlyphs" stroke="#d1d4dc" stroke-width="0.3">Apr</text>
<text x="190.99" y="453.20" font-size="7.1" fill="#d1d4dc" textLength="3.50" lengthAdjust="spacingAndGlyphs">3</text>
<text x="229.55" y="453.20" font-size="7.1" fill="#d1d4dc" textLength="3.50" lengthAdjust="spacingAndGlyphs">5</text>
<text x="268.10" y="453.20" font-size="7.1" fill="#d1d4dc" textLength="3.50" lengthAdjust="spacingAndGlyphs">7</text>
<text x="306.65" y="453.20" font-size="7.1" fill="#d1d4dc" textLength="3.50" lengthAdjust="spacingAndGlyphs">9</text>
<text x="343.71" y="453.20" font-size="7.1" fill="#d1d4dc" textLength="6.50" lengthAdjust="spacingAndGlyphs">11</text>
<text x="382.26" y="453.20" font-size="7.1" fill="#d1d4dc" textLength="6.50" lengthAdjust="spacingAndGlyphs">13</text>
<text x="420.81" y="453.20" font-size="7.1" fill="#d1d4dc" textLength="6.50" lengthAdjust="spacingAndGlyphs">15</text>
<text x="459.37" y="453.20" font-size="7.1" fill="#d1d4dc" textLength="6.50" lengthAdjust="spacingAndGlyphs">17</text>
<text x="497.92" y="453.20" font-size="7.1" fill="#d1d4dc" textLength="6.50" lengthAdjust="spacingAndGlyphs">19</text>
<text x="536.47" y="453.20" font-size="7.1" fill="#d1d4dc" textLength="6.50" lengthAdjust="spacingAndGlyphs">21</text>
<text x="575.03" y="453.20" font-size="7.1" fill="#d1d4dc" textLength="6.50" lengthAdjust="spacingAndGlyphs">23</text>
<text x="613.58" y="453.20" font-size="7.1" fill="#d1d4dc" textLength="6.50" lengthAdjust="spacingAndGlyphs">25</text>
<text x="652.14" y="453.20" font-size="7.1" fill="#d1d4dc" textLength="6.50" lengthAdjust="spacingAndGlyphs">27</text>
<text x="690.69" y="453.20" font-size="7.1" fill="#d1d4dc" textLength="6.50" lengthAdjust="spacingAndGlyphs">29</text>
<text x="727.54" y="453.20" font-size="7.1" fill="#d1d4dc" textLength="9.90" lengthAdjust="spacingAndGlyphs" stroke="#d1d4dc" stroke-width="0.3">May</text>
<circle cx="562.2" cy="437.9" r="4.55" fill="#130b17" stroke="#9038ae" stroke-width="1.0"/>
<path d="M563.7 434.5 L560.3 438.7 L562.2 438.7 L560.9 441.5 L564.3 437.3 L562.4 437.3 Z" fill="#ba42e8"/>
<defs><clipPath id="fl"><circle cx="607.3" cy="437.9" r="4.2"/></clipPath></defs>
<circle cx="607.3" cy="437.9" r="5.35" fill="#8f2329"/>
<g clip-path="url(#fl)"><rect x="602" y="433" width="11" height="11" fill="#ececec"/><rect x="602" y="433.4" width="11" height="1.25" fill="#cf3b3b"/><rect x="602" y="435.9" width="11" height="1.25" fill="#cf3b3b"/><rect x="602" y="440.2" width="11" height="1.5" fill="#cf3b3b"/><rect x="602" y="442.6" width="11" height="1.4" fill="#cf3b3b"/><rect x="602" y="433" width="5.8" height="5.6" fill="#5a9fe0"/></g>
<text x="5.00" y="9.00" font-size="5.9" fill="#f0f0f0" textLength="176.50" lengthAdjust="spacingAndGlyphs" stroke="#f0f0f0" stroke-width="0.28">kazzzdafke published on TradingView.com, Apr 22, 2025 09:12 UTC+2</text>
<path d="M4.9 463.2 H8.6 V468 H6.9 V465 H4.9 Z" fill="#e0e0e0"/>
<circle cx="9.9" cy="464.1" r="0.9" fill="#e0e0e0"/>
<path d="M11.6 463.2 H13.9 L11.9 468 H9.6 Z" fill="#e0e0e0"/>
<text x="15.40" y="468.00" font-size="6.4" fill="#d4d4d4" textLength="33.70" lengthAdjust="spacingAndGlyphs" stroke="#d4d4d4" stroke-width="0.3">TradingView</text>
</svg>
</body></html>
